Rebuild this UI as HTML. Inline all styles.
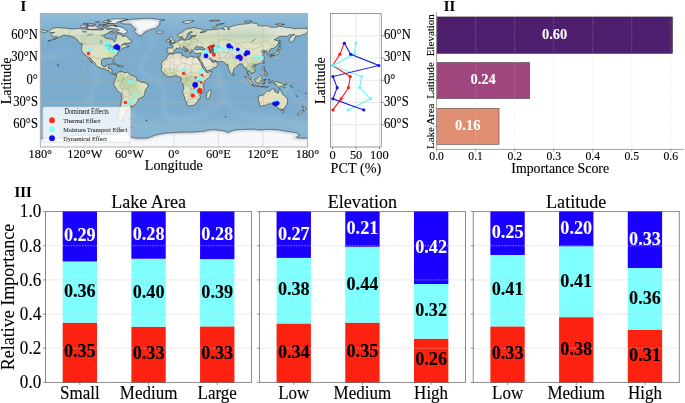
<!DOCTYPE html>
<html><head><meta charset="utf-8"><style>
html,body{margin:0;padding:0;background:#fff;overflow:hidden;}
svg{display:block;will-change:transform;}
</style></head><body>
<svg width="685" height="403" viewBox="0 0 685 403">
<rect width="685" height="403" fill="#fff"/>
<defs><clipPath id="mapclip"><rect x="40.3" y="13.6" width="267.20" height="133.40"/></clipPath><filter id="blur1" x="-20%" y="-20%" width="140%" height="140%"><feGaussianBlur stdDeviation="1.2"/></filter><filter id="blur2" x="-20%" y="-20%" width="140%" height="140%"><feGaussianBlur stdDeviation="2.5"/></filter></defs>
<g clip-path="url(#mapclip)">
<rect x="40.3" y="13.6" width="267.20" height="133.40" fill="#7bacce"/>
<linearGradient id="og" x1="0" y1="0" x2="0" y2="1"><stop offset="0" stop-color="#92bfdb" stop-opacity="0.9"/><stop offset="0.16" stop-color="#92bfdb" stop-opacity="0"/><stop offset="0.72" stop-color="#92bfdb" stop-opacity="0"/><stop offset="0.85" stop-color="#92bfdb" stop-opacity="0.5"/></linearGradient>
<rect x="40.3" y="13.6" width="267.20" height="133.40" fill="url(#og)"/>
<path d="M151.63,34.35 L153.12,41.76 L149.41,49.17 L144.21,56.58 L140.50,64.00 L140.50,71.41 L150.15,78.08 L159.06,81.78 L163.51,91.42 L164.25,102.53 L163.51,111.43 L170.19,118.84 L181.32,120.32 M93.74,64.00 L96.71,72.89 L96.71,80.30 L92.26,89.19 L90.77,98.83 L89.29,108.46 L86.32,117.36 L81.12,122.54 L62.57,126.25 L40.30,126.25 M225.86,101.05 L231.79,108.46 L240.70,113.65 L251.83,116.61 L262.97,117.36 L277.81,118.84 L288.94,122.54 L307.50,126.25 M225.86,101.05 L214.72,106.98 L203.59,112.91 L192.46,117.36 L181.32,120.32 M225.86,101.05 L223.63,89.19 L219.92,78.82 L216.95,71.41 M40.30,58.07 L55.14,54.36 L69.99,50.66 M292.66,95.12 L303.79,102.53 L307.50,108.46" fill="none" stroke="#9fc7df" stroke-width="5" stroke-linecap="round" stroke-linejoin="round" opacity="0.3" filter="url(#blur2)"/>
<g filter="url(#blur2)">
<ellipse cx="129.4" cy="115.1" rx="6.7" ry="4.5" fill="#94c2dc" opacity="0.7"/>
<ellipse cx="177.6" cy="38.8" rx="5.9" ry="3.0" fill="#94c2dc" opacity="0.7"/>
<ellipse cx="254.1" cy="80.3" rx="8.9" ry="5.2" fill="#94c2dc" opacity="0.7"/>
<ellipse cx="47.7" cy="35.8" rx="7.4" ry="3.0" fill="#94c2dc" opacity="0.7"/>
<ellipse cx="114.5" cy="61.8" rx="4.5" ry="3.0" fill="#94c2dc" opacity="0.7"/>
<ellipse cx="285.2" cy="89.2" rx="5.9" ry="3.7" fill="#94c2dc" opacity="0.7"/>
<ellipse cx="266.7" cy="91.4" rx="4.5" ry="3.0" fill="#94c2dc" opacity="0.7"/>
<ellipse cx="218.4" cy="84.0" rx="3.0" ry="2.2" fill="#94c2dc" opacity="0.7"/>
<ellipse cx="136.8" cy="44.7" rx="4.5" ry="2.2" fill="#94c2dc" opacity="0.7"/>
</g>
<path d="M49.21,31.76 L50.69,29.53 L52.92,28.27 L57.74,27.46 L61.08,27.83 L66.28,28.35 L69.25,28.64 L72.96,29.16 L77.41,28.42 L81.12,28.79 L86.32,29.39 L92.26,29.90 L96.71,29.90 L101.16,30.05 L103.39,29.53 L104.13,27.31 L105.62,28.79 L108.58,29.90 L110.81,28.79 L113.41,30.27 L112.30,31.39 L110.07,31.24 L109.33,32.50 L106.36,33.76 L104.13,35.09 L103.76,36.57 L105.24,38.06 L108.58,38.80 L112.67,39.54 L114.52,42.13 L115.41,39.54 L116.75,37.32 L116.01,35.46 L116.38,33.98 L119.72,34.35 L121.94,35.09 L122.32,36.57 L125.28,36.20 L126.03,35.61 L128.62,38.80 L130.85,40.28 L132.34,41.76 L129.37,43.10 L124.91,43.24 L122.69,44.36 L121.20,45.62 L123.43,44.13 L126.03,43.99 L125.66,45.10 L126.40,46.21 L128.62,46.51 L129.37,46.21 L126.77,47.32 L124.91,47.69 L121.94,48.06 L121.57,49.32 L120.46,49.91 L118.98,50.29 L118.98,51.40 L117.86,52.14 L117.49,52.88 L117.86,53.99 L116.75,54.73 L115.26,55.47 L113.78,56.96 L113.56,58.07 L114.37,60.29 L114.23,61.62 L113.41,61.40 L112.52,59.92 L112.30,58.81 L111.18,58.07 L110.07,57.77 L108.58,57.77 L107.47,58.07 L107.84,58.73 L106.36,58.59 L104.13,58.36 L103.39,58.81 L101.68,59.92 L101.53,61.40 L101.31,64.00 L101.90,65.48 L102.65,66.22 L103.76,66.81 L105.62,66.52 L106.36,66.22 L106.73,64.88 L107.10,64.59 L109.33,64.37 L108.96,65.48 L108.58,66.96 L108.21,68.44 L110.07,68.59 L111.92,69.18 L111.92,71.41 L111.78,72.15 L113.04,73.63 L114.52,73.41 L116.38,74.00 L116.08,74.89 L114.52,74.74 L113.04,74.22 L110.29,72.89 L110.22,71.78 L108.96,70.67 L105.99,69.92 L104.13,68.44 L102.28,68.66 L100.42,67.85 L98.19,66.96 L95.60,65.11 L95.82,64.22 L95.22,63.25 L93.37,61.40 L92.26,60.29 L90.40,58.44 L88.92,56.96 L90.03,58.81 L90.77,60.29 L91.88,62.51 L92.63,63.25 L91.88,62.88 L90.77,61.77 L89.29,59.92 L88.54,58.44 L87.43,56.73 L86.91,56.14 L85.95,55.10 L84.39,54.73 L83.35,53.03 L82.98,52.36 L81.86,50.66 L81.57,49.17 L81.86,46.21 L81.34,44.43 L82.61,44.58 L82.61,43.99 L81.12,43.24 L78.90,42.50 L77.41,39.91 L75.18,38.06 L72.96,36.95 L70.36,36.06 L67.76,35.83 L65.54,35.09 L64.05,35.46 L62.57,35.09 L61.45,36.35 L59.60,36.95 L57.37,38.06 L55.14,38.80 L52.92,39.69 L55.14,38.95 L56.63,37.69 L57.37,36.72 L53.66,36.80 L51.80,35.83 L51.06,34.72 L51.43,33.98 L52.18,33.46 L54.40,32.72 L54.40,32.35 L52.92,32.42 L50.32,32.50 Z M116.38,74.00 L117.49,73.26 L117.86,72.52 L118.98,72.00 L120.46,71.18 L120.83,72.15 L121.94,71.26 L123.43,72.52 L125.66,72.74 L127.51,72.37 L128.62,72.89 L129.37,74.00 L130.85,75.26 L133.08,75.93 L135.30,76.74 L136.05,77.34 L136.79,78.97 L136.79,80.30 L137.90,81.04 L139.02,80.82 L140.87,82.15 L142.73,82.38 L144.21,82.38 L145.70,83.12 L147.77,84.38 L147.92,85.86 L147.77,86.97 L146.44,88.45 L145.18,89.93 L144.80,93.27 L144.21,95.12 L143.47,96.60 L141.61,97.35 L140.50,97.86 L138.64,98.83 L137.83,99.94 L137.68,101.42 L136.57,102.90 L135.16,104.16 L134.19,105.50 L133.08,106.24 L131.96,106.09 L130.55,105.87 L131.44,106.98 L131.82,107.35 L131.15,108.61 L129.37,109.13 L127.73,109.06 L127.66,110.31 L126.03,110.54 L125.66,111.43 L126.40,111.80 L125.28,113.65 L123.80,114.76 L124.91,115.87 L123.21,117.43 L122.69,118.54 L123.13,119.13 L121.94,119.36 L123.06,119.80 L125.43,120.99 L123.43,121.43 L121.20,121.06 L118.98,119.21 L117.86,117.36 L118.60,115.13 L117.79,114.76 L118.98,112.91 L119.35,111.06 L119.20,108.46 L120.09,106.61 L120.68,104.76 L120.83,102.53 L121.42,100.68 L121.80,97.72 L121.72,93.86 L120.46,92.90 L118.08,91.64 L117.27,90.30 L116.60,89.19 L115.64,87.34 L114.52,85.49 L113.63,84.38 L114.30,82.89 L113.85,81.93 L114.52,81.04 L114.37,79.93 L115.26,79.26 L115.64,78.45 L116.53,77.34 L116.53,75.48 L116.08,74.89 Z M169.74,53.62 L169.22,53.03 L168.33,52.73 L167.22,52.88 L167.37,51.62 L166.85,51.03 L167.37,49.91 L167.00,48.43 L167.96,47.91 L170.19,48.06 L172.42,48.14 L172.79,47.69 L173.01,46.21 L172.27,45.32 L170.56,44.80 L170.41,44.28 L172.71,44.21 L172.94,43.54 L173.90,43.69 L175.01,43.10 L175.76,42.43 L176.57,42.13 L177.24,41.39 L177.61,40.87 L179.10,40.58 L180.21,40.50 L180.28,39.17 L179.99,38.20 L181.69,37.54 L181.69,38.58 L181.32,39.54 L181.92,40.06 L183.18,39.98 L184.51,40.35 L187.63,39.76 L189.49,39.54 L189.56,38.43 L191.64,38.06 L192.01,37.09 L191.34,36.43 L194.68,36.20 L196.17,35.83 L194.68,35.46 L190.90,35.83 L189.78,35.24 L189.86,33.61 L192.60,32.13 L190.23,31.53 L189.71,32.50 L188.00,33.24 L186.89,34.13 L186.81,35.31 L187.78,35.98 L186.52,36.95 L186.22,38.06 L185.78,38.65 L184.44,39.24 L183.40,39.09 L183.18,38.20 L182.66,37.17 L182.06,36.57 L181.69,36.20 L180.95,36.65 L179.84,37.24 L178.35,37.02 L177.98,36.20 L177.61,35.09 L177.83,34.35 L179.10,33.76 L180.58,33.24 L182.06,32.28 L183.18,31.39 L184.66,30.27 L185.78,29.31 L187.26,28.72 L188.74,28.42 L191.34,28.05 L192.98,27.61 L195.05,27.76 L196.91,28.20 L198.39,28.87 L200.62,29.09 L203.96,30.05 L204.33,31.16 L202.48,31.39 L199.88,32.50 L201.36,32.87 L203.59,32.50 L206.56,31.24 L206.56,29.68 L208.04,29.83 L210.27,30.05 L213.61,29.53 L216.95,29.39 L218.80,28.57 L222.14,28.94 L224.74,29.76 L223.26,27.83 L225.11,26.20 L226.60,26.35 L227.71,27.53 L227.93,29.53 L229.57,29.53 L228.82,26.94 L231.05,26.72 L233.28,25.83 L237.73,25.09 L238.47,24.57 L244.41,23.98 L248.12,23.61 L251.31,22.72 L252.58,22.94 L257.03,23.61 L258.14,25.75 L261.48,26.05 L265.94,25.75 L268.16,25.83 L269.65,26.94 L271.87,27.31 L276.33,27.24 L279.30,26.42 L282.26,26.72 L285.23,27.31 L287.46,27.76 L290.43,27.68 L292.66,28.42 L293.40,28.79 L296.37,28.64 L300.08,28.35 L304.53,28.57 L307.87,29.16 L307.87,32.13 L306.76,32.35 L305.27,33.98 L303.05,34.50 L300.08,35.83 L297.11,35.98 L295.62,35.91 L295.25,37.69 L294.14,38.65 L294.29,39.69 L292.66,41.02 L291.54,41.76 L290.21,42.50 L289.69,41.39 L289.32,39.54 L289.69,37.69 L291.17,37.32 L292.66,35.46 L294.88,34.35 L292.66,34.72 L289.69,34.72 L286.72,36.43 L284.12,36.35 L280.04,36.35 L278.18,37.17 L275.96,38.65 L274.10,39.76 L276.33,40.43 L278.18,40.87 L278.78,41.61 L278.18,44.36 L276.33,45.84 L274.47,47.84 L272.62,48.58 L271.13,48.73 L270.24,49.91 L268.90,50.66 L268.53,51.10 L269.94,52.88 L269.87,54.21 L268.16,54.66 L267.64,54.66 L267.79,53.47 L267.87,52.51 L266.68,52.29 L266.75,51.03 L266.16,50.73 L264.08,51.40 L264.30,50.06 L263.71,49.99 L262.22,51.17 L261.48,51.25 L261.19,51.69 L262.08,52.58 L263.71,52.29 L264.82,52.73 L263.34,53.62 L262.37,54.51 L263.56,56.14 L264.30,56.81 L264.08,57.47 L264.45,58.21 L263.86,59.55 L262.60,61.03 L261.48,62.14 L260.00,63.40 L258.51,63.77 L257.03,64.14 L255.92,64.59 L255.40,64.37 L254.43,64.29 L252.95,65.26 L252.35,66.22 L253.32,67.85 L253.69,68.22 L254.65,68.96 L255.02,70.67 L254.95,71.70 L254.06,72.37 L253.10,72.59 L251.68,73.93 L251.91,72.96 L251.46,72.52 L250.35,71.78 L249.83,71.26 L248.79,70.89 L248.27,70.30 L248.05,71.41 L247.53,72.74 L248.34,74.07 L248.57,75.11 L249.09,75.19 L249.83,75.85 L250.65,76.74 L250.65,78.22 L251.24,79.26 L250.72,79.34 L249.24,78.22 L248.42,76.89 L248.34,75.71 L247.97,75.26 L247.01,74.22 L246.86,73.04 L247.08,71.41 L246.79,70.30 L246.49,68.44 L246.12,67.85 L245.30,67.85 L244.41,68.59 L243.89,68.15 L244.11,66.59 L243.37,65.63 L242.41,64.88 L242.04,63.63 L241.07,63.85 L239.96,64.14 L239.22,64.29 L238.40,64.74 L238.10,65.33 L236.99,66.00 L235.88,66.96 L234.98,68.00 L234.17,68.59 L233.43,69.04 L233.43,70.67 L233.13,71.78 L233.13,72.67 L232.46,73.56 L231.42,74.30 L230.68,73.41 L230.16,71.78 L229.42,70.67 L228.90,69.18 L228.38,68.07 L228.01,66.22 L227.86,64.74 L227.79,63.85 L226.23,64.88 L225.11,63.77 L224.74,62.88 L223.85,62.14 L223.26,61.48 L221.77,61.62 L219.62,61.62 L217.62,61.40 L216.43,61.18 L215.76,60.22 L214.57,60.59 L213.61,60.36 L212.12,59.62 L211.23,58.66 L210.19,57.92 L209.45,58.14 L209.90,59.33 L210.79,60.51 L211.60,61.48 L211.98,60.96 L212.20,62.29 L213.83,62.44 L215.09,61.48 L215.69,60.81 L215.69,61.92 L216.65,62.66 L218.06,63.63 L217.47,65.03 L216.80,66.22 L215.84,67.03 L214.87,67.33 L213.39,68.00 L212.64,68.74 L210.27,69.85 L207.67,70.59 L206.19,70.96 L205.67,68.81 L205.44,68.07 L204.48,66.59 L203.59,65.48 L202.92,64.37 L202.48,62.88 L201.51,61.62 L200.99,60.66 L200.03,59.55 L199.80,58.44 L199.36,59.70 L198.76,59.18 L198.10,58.14 L197.87,57.18 L199.28,57.10 L199.88,55.99 L200.25,55.18 L200.55,53.99 L200.77,53.18 L199.66,53.03 L198.24,53.55 L196.54,53.40 L195.42,53.18 L194.16,52.51 L193.49,51.69 L193.35,50.66 L191.71,50.06 L190.90,50.29 L191.34,51.03 L190.75,52.14 L191.12,53.25 L190.60,53.32 L190.01,53.03 L189.56,51.92 L188.74,51.03 L188.30,50.29 L188.37,49.32 L187.63,48.80 L185.78,48.06 L185.03,47.32 L184.07,46.73 L183.03,46.73 L183.10,47.54 L183.99,48.06 L184.66,49.03 L185.92,49.69 L187.63,50.58 L186.52,50.36 L186.15,51.40 L185.55,52.14 L185.48,51.47 L185.78,50.80 L184.88,50.36 L184.07,49.77 L182.96,49.32 L182.06,48.73 L181.62,48.06 L180.51,47.39 L179.47,47.84 L178.72,48.36 L177.39,48.14 L176.28,48.36 L176.28,49.25 L175.46,49.69 L174.49,50.06 L173.68,51.03 L174.05,51.54 L173.38,52.43 L172.34,53.10 L170.63,53.10 Z M197.87,57.10 L196.17,57.10 L195.42,57.40 L192.46,56.88 L190.97,56.14 L188.74,56.58 L188.00,57.84 L185.78,57.18 L185.18,56.36 L183.55,55.92 L182.06,55.70 L181.47,54.88 L182.06,54.21 L181.54,53.18 L182.06,52.80 L181.17,52.66 L179.84,52.95 L177.61,53.03 L176.13,53.03 L173.90,53.69 L172.42,54.29 L169.97,53.69 L169.45,53.77 L168.85,55.10 L167.59,55.62 L166.70,57.70 L166.33,58.59 L164.33,59.62 L163.14,60.96 L162.02,62.51 L161.28,64.37 L161.65,65.85 L161.80,67.70 L160.91,69.41 L161.50,70.37 L161.43,71.41 L162.77,72.15 L163.88,73.19 L164.62,74.74 L165.74,75.26 L167.22,76.59 L168.33,77.04 L170.19,76.52 L172.42,76.74 L173.90,76.15 L175.38,75.63 L177.24,75.63 L177.98,76.74 L178.72,77.11 L180.21,76.89 L180.95,77.48 L181.17,78.22 L180.95,79.56 L180.80,80.67 L180.43,81.19 L182.44,83.26 L182.96,84.67 L183.62,86.60 L183.92,88.45 L182.73,91.79 L182.66,93.27 L183.70,95.12 L184.66,96.97 L185.03,99.94 L186.15,101.50 L186.89,103.27 L187.56,105.50 L188.74,106.09 L190.60,105.50 L192.98,105.50 L194.31,104.76 L195.80,103.42 L196.91,102.16 L198.02,101.27 L198.10,99.57 L198.39,99.20 L200.25,98.09 L200.10,96.60 L199.66,94.97 L201.21,93.64 L203.22,92.53 L204.03,91.42 L203.96,88.82 L203.07,86.23 L203.07,85.12 L203.37,83.64 L204.33,81.78 L205.07,80.89 L206.19,79.56 L208.04,78.45 L209.53,76.59 L210.64,74.37 L211.75,72.52 L211.98,71.55 L210.27,71.93 L208.04,72.37 L206.56,72.52 L206.04,71.78 L205.59,71.04 L204.70,70.07 L203.44,68.96 L202.48,66.96 L201.58,66.22 L201.51,64.74 L201.14,63.63 L200.32,62.51 L199.51,61.18 L198.84,60.07 L198.10,58.14 Z M210.49,89.19 L211.38,91.79 L210.86,92.97 L210.12,95.49 L208.93,98.68 L207.45,99.20 L206.34,96.97 L206.85,94.97 L206.56,92.90 L208.19,92.01 L209.45,90.30 Z M258.14,96.60 L258.51,99.94 L259.26,102.90 L259.78,105.13 L259.26,105.72 L261.41,106.31 L262.97,105.42 L265.56,105.42 L267.42,104.24 L269.65,103.72 L271.28,103.65 L273.51,104.53 L274.62,106.09 L276.18,104.61 L275.96,106.61 L277.44,106.83 L278.18,108.46 L280.41,109.06 L282.49,109.28 L283.75,108.31 L285.23,107.94 L285.38,106.76 L286.20,105.35 L287.09,104.16 L287.68,101.79 L287.53,99.42 L285.83,97.05 L284.64,96.01 L282.49,94.38 L281.82,92.16 L281.74,91.27 L280.41,90.68 L279.67,88.23 L279.00,89.71 L278.92,91.79 L278.18,93.27 L277.07,92.90 L275.58,91.94 L274.47,91.27 L275.36,89.34 L274.10,89.34 L272.24,88.82 L271.13,89.34 L270.02,91.27 L268.90,91.27 L267.42,90.68 L266.68,91.42 L265.56,92.53 L264.60,93.64 L263.71,94.75 L261.85,95.34 L260.37,95.64 L258.66,96.46 Z M281.23,110.46 L283.97,110.61 L283.75,112.32 L282.86,112.61 L281.67,111.57 Z M302.08,105.79 L303.42,106.98 L304.46,108.02 L306.39,108.24 L305.27,109.57 L304.53,110.98 L303.79,111.06 L303.49,109.80 L302.90,109.35 L303.49,108.09 Z M302.08,110.31 L303.27,111.20 L302.30,112.54 L300.97,113.28 L299.71,114.84 L297.48,114.39 L298.59,112.91 L300.82,111.80 Z M244.56,76.15 L246.64,77.19 L248.49,78.82 L250.72,80.89 L252.58,82.52 L252.43,84.60 L251.46,84.67 L249.83,83.26 L248.49,81.41 L247.38,79.93 L246.27,78.45 Z M251.98,85.34 L254.06,84.89 L256.29,85.12 L258.88,86.08 L258.81,86.75 L256.29,86.38 L254.06,86.08 Z M254.80,79.19 L255.25,78.82 L256.29,79.04 L257.77,77.93 L259.63,76.37 L260.74,75.11 L262.37,76.30 L261.48,77.11 L261.85,79.56 L261.11,80.30 L260.37,82.15 L260.00,83.19 L258.88,83.26 L256.66,82.52 L255.54,81.78 L254.80,80.30 Z M262.60,84.38 L263.34,82.52 L262.60,80.67 L263.56,79.56 L266.53,79.19 L265.56,79.93 L263.71,79.93 L264.08,81.04 L265.19,81.04 L264.45,82.15 L264.82,83.86 L263.71,83.26 L263.34,84.45 Z M271.13,81.19 L273.36,80.89 L274.10,82.75 L275.96,81.41 L278.55,82.23 L281.15,83.12 L282.26,84.01 L283.38,84.75 L283.60,86.23 L285.23,87.93 L283.75,87.71 L282.26,86.60 L280.78,86.01 L280.04,86.97 L278.55,87.04 L277.07,86.30 L276.33,84.75 L275.96,84.01 L273.36,83.26 L271.87,82.15 Z M263.41,66.59 L264.60,66.59 L264.45,68.07 L264.15,69.18 L265.94,70.67 L265.19,70.67 L263.71,70.07 L263.41,69.18 L262.82,68.29 Z M264.45,75.11 L265.56,74.00 L267.05,73.04 L267.87,74.96 L267.05,76.00 L265.94,75.48 Z M264.45,71.78 L265.94,71.04 L267.05,72.15 L266.68,72.89 L265.19,73.41 L264.45,72.52 Z M263.71,61.55 L264.45,61.77 L263.71,64.00 L263.04,63.25 Z M254.51,66.07 L255.92,65.40 L256.29,65.77 L255.17,66.81 Z M233.13,73.11 L234.61,74.74 L234.17,75.71 L233.35,75.85 L233.06,74.37 Z M271.06,55.10 L272.24,54.06 L274.47,53.92 L275.44,52.73 L276.77,52.14 L277.81,51.03 L277.81,49.69 L278.92,49.77 L279.30,51.03 L278.55,52.14 L278.40,53.62 L277.66,54.36 L276.92,54.58 L275.58,54.73 L274.10,55.47 L272.24,54.95 Z M277.81,49.54 L278.55,48.28 L279.15,46.65 L280.26,47.54 L281.89,48.21 L280.41,49.17 L278.55,49.32 Z M270.17,55.40 L271.80,55.18 L271.50,57.10 L270.54,57.18 Z M272.24,55.84 L273.88,54.95 L273.51,55.70 L272.62,56.07 Z M279.30,46.21 L280.41,45.84 L280.04,43.62 L280.78,42.50 L280.04,40.28 L279.44,40.06 L279.30,42.50 L279.15,44.73 Z M169.67,43.24 L171.67,42.80 L174.94,42.36 L175.16,41.24 L174.12,40.80 L173.75,40.21 L172.79,39.39 L172.34,38.80 L172.42,37.54 L171.52,36.87 L170.19,36.87 L169.30,37.69 L169.74,38.58 L169.45,39.32 L170.26,39.84 L171.67,40.28 L171.52,40.80 L170.49,40.80 L170.78,41.61 L169.97,41.91 L171.52,42.21 Z M169.45,41.76 L169.45,40.28 L168.48,39.24 L167.59,39.91 L166.48,40.13 L166.48,41.76 L166.63,42.13 L167.96,42.06 Z M110.81,64.07 L113.04,63.11 L114.52,63.18 L116.38,64.14 L117.86,64.74 L118.83,65.33 L116.38,65.55 L115.64,64.37 L113.78,64.00 L111.55,64.14 Z M118.60,66.59 L119.87,65.55 L121.94,65.70 L123.13,66.52 L121.94,66.81 L120.46,66.96 Z M40.30,29.16 L43.27,30.27 L46.61,30.72 L47.94,31.39 L46.98,31.76 L45.50,32.50 L43.27,32.13 L41.41,31.76 L40.30,32.13 Z M306.39,27.53 L307.50,27.31 L307.50,27.76 Z M58.19,65.33 L58.86,65.70 L58.71,66.22 L58.19,66.14 Z M57.15,64.59 L58.11,64.74 L57.82,65.03 L57.15,64.81 Z M50.69,40.35 L51.80,39.91 L50.32,40.28 L48.84,40.80 L47.72,41.17 L49.21,40.95 Z M128.40,118.32 L131.00,118.32 L130.48,119.06 L128.62,118.84 Z M145.70,120.32 L147.18,120.47 L146.81,120.76 Z M225.11,116.47 L226.23,116.61 L225.86,117.13 L225.11,116.98 Z M295.62,95.27 L296.37,95.49 L297.85,96.83 L297.48,96.90 L295.85,95.64 Z M305.50,93.20 L306.46,93.27 L306.39,93.79 L305.50,93.64 Z M290.06,85.27 L291.91,86.23 L293.03,87.41 L292.43,87.56 L290.43,86.23 Z M283.97,84.38 L285.23,84.23 L286.35,83.49 L286.94,83.49 L286.57,84.38 L285.23,84.89 L284.12,84.75 Z M265.56,87.93 L266.68,86.97 L268.38,86.53 L266.68,87.49 Z M259.85,86.45 L262.22,86.45 L265.19,86.45 L265.04,86.82 L261.48,86.90 L260.00,86.90 Z M268.53,78.97 L269.35,79.41 L268.90,80.30 L269.42,80.89 L268.61,80.67 Z M268.90,82.52 L270.98,82.75 L270.61,83.19 L269.13,82.97 Z" fill="#dce3c4"/>
<clipPath id="landclip"><path d="M49.21,31.76 L50.69,29.53 L52.92,28.27 L57.74,27.46 L61.08,27.83 L66.28,28.35 L69.25,28.64 L72.96,29.16 L77.41,28.42 L81.12,28.79 L86.32,29.39 L92.26,29.90 L96.71,29.90 L101.16,30.05 L103.39,29.53 L104.13,27.31 L105.62,28.79 L108.58,29.90 L110.81,28.79 L113.41,30.27 L112.30,31.39 L110.07,31.24 L109.33,32.50 L106.36,33.76 L104.13,35.09 L103.76,36.57 L105.24,38.06 L108.58,38.80 L112.67,39.54 L114.52,42.13 L115.41,39.54 L116.75,37.32 L116.01,35.46 L116.38,33.98 L119.72,34.35 L121.94,35.09 L122.32,36.57 L125.28,36.20 L126.03,35.61 L128.62,38.80 L130.85,40.28 L132.34,41.76 L129.37,43.10 L124.91,43.24 L122.69,44.36 L121.20,45.62 L123.43,44.13 L126.03,43.99 L125.66,45.10 L126.40,46.21 L128.62,46.51 L129.37,46.21 L126.77,47.32 L124.91,47.69 L121.94,48.06 L121.57,49.32 L120.46,49.91 L118.98,50.29 L118.98,51.40 L117.86,52.14 L117.49,52.88 L117.86,53.99 L116.75,54.73 L115.26,55.47 L113.78,56.96 L113.56,58.07 L114.37,60.29 L114.23,61.62 L113.41,61.40 L112.52,59.92 L112.30,58.81 L111.18,58.07 L110.07,57.77 L108.58,57.77 L107.47,58.07 L107.84,58.73 L106.36,58.59 L104.13,58.36 L103.39,58.81 L101.68,59.92 L101.53,61.40 L101.31,64.00 L101.90,65.48 L102.65,66.22 L103.76,66.81 L105.62,66.52 L106.36,66.22 L106.73,64.88 L107.10,64.59 L109.33,64.37 L108.96,65.48 L108.58,66.96 L108.21,68.44 L110.07,68.59 L111.92,69.18 L111.92,71.41 L111.78,72.15 L113.04,73.63 L114.52,73.41 L116.38,74.00 L116.08,74.89 L114.52,74.74 L113.04,74.22 L110.29,72.89 L110.22,71.78 L108.96,70.67 L105.99,69.92 L104.13,68.44 L102.28,68.66 L100.42,67.85 L98.19,66.96 L95.60,65.11 L95.82,64.22 L95.22,63.25 L93.37,61.40 L92.26,60.29 L90.40,58.44 L88.92,56.96 L90.03,58.81 L90.77,60.29 L91.88,62.51 L92.63,63.25 L91.88,62.88 L90.77,61.77 L89.29,59.92 L88.54,58.44 L87.43,56.73 L86.91,56.14 L85.95,55.10 L84.39,54.73 L83.35,53.03 L82.98,52.36 L81.86,50.66 L81.57,49.17 L81.86,46.21 L81.34,44.43 L82.61,44.58 L82.61,43.99 L81.12,43.24 L78.90,42.50 L77.41,39.91 L75.18,38.06 L72.96,36.95 L70.36,36.06 L67.76,35.83 L65.54,35.09 L64.05,35.46 L62.57,35.09 L61.45,36.35 L59.60,36.95 L57.37,38.06 L55.14,38.80 L52.92,39.69 L55.14,38.95 L56.63,37.69 L57.37,36.72 L53.66,36.80 L51.80,35.83 L51.06,34.72 L51.43,33.98 L52.18,33.46 L54.40,32.72 L54.40,32.35 L52.92,32.42 L50.32,32.50 Z M116.38,74.00 L117.49,73.26 L117.86,72.52 L118.98,72.00 L120.46,71.18 L120.83,72.15 L121.94,71.26 L123.43,72.52 L125.66,72.74 L127.51,72.37 L128.62,72.89 L129.37,74.00 L130.85,75.26 L133.08,75.93 L135.30,76.74 L136.05,77.34 L136.79,78.97 L136.79,80.30 L137.90,81.04 L139.02,80.82 L140.87,82.15 L142.73,82.38 L144.21,82.38 L145.70,83.12 L147.77,84.38 L147.92,85.86 L147.77,86.97 L146.44,88.45 L145.18,89.93 L144.80,93.27 L144.21,95.12 L143.47,96.60 L141.61,97.35 L140.50,97.86 L138.64,98.83 L137.83,99.94 L137.68,101.42 L136.57,102.90 L135.16,104.16 L134.19,105.50 L133.08,106.24 L131.96,106.09 L130.55,105.87 L131.44,106.98 L131.82,107.35 L131.15,108.61 L129.37,109.13 L127.73,109.06 L127.66,110.31 L126.03,110.54 L125.66,111.43 L126.40,111.80 L125.28,113.65 L123.80,114.76 L124.91,115.87 L123.21,117.43 L122.69,118.54 L123.13,119.13 L121.94,119.36 L123.06,119.80 L125.43,120.99 L123.43,121.43 L121.20,121.06 L118.98,119.21 L117.86,117.36 L118.60,115.13 L117.79,114.76 L118.98,112.91 L119.35,111.06 L119.20,108.46 L120.09,106.61 L120.68,104.76 L120.83,102.53 L121.42,100.68 L121.80,97.72 L121.72,93.86 L120.46,92.90 L118.08,91.64 L117.27,90.30 L116.60,89.19 L115.64,87.34 L114.52,85.49 L113.63,84.38 L114.30,82.89 L113.85,81.93 L114.52,81.04 L114.37,79.93 L115.26,79.26 L115.64,78.45 L116.53,77.34 L116.53,75.48 L116.08,74.89 Z M169.74,53.62 L169.22,53.03 L168.33,52.73 L167.22,52.88 L167.37,51.62 L166.85,51.03 L167.37,49.91 L167.00,48.43 L167.96,47.91 L170.19,48.06 L172.42,48.14 L172.79,47.69 L173.01,46.21 L172.27,45.32 L170.56,44.80 L170.41,44.28 L172.71,44.21 L172.94,43.54 L173.90,43.69 L175.01,43.10 L175.76,42.43 L176.57,42.13 L177.24,41.39 L177.61,40.87 L179.10,40.58 L180.21,40.50 L180.28,39.17 L179.99,38.20 L181.69,37.54 L181.69,38.58 L181.32,39.54 L181.92,40.06 L183.18,39.98 L184.51,40.35 L187.63,39.76 L189.49,39.54 L189.56,38.43 L191.64,38.06 L192.01,37.09 L191.34,36.43 L194.68,36.20 L196.17,35.83 L194.68,35.46 L190.90,35.83 L189.78,35.24 L189.86,33.61 L192.60,32.13 L190.23,31.53 L189.71,32.50 L188.00,33.24 L186.89,34.13 L186.81,35.31 L187.78,35.98 L186.52,36.95 L186.22,38.06 L185.78,38.65 L184.44,39.24 L183.40,39.09 L183.18,38.20 L182.66,37.17 L182.06,36.57 L181.69,36.20 L180.95,36.65 L179.84,37.24 L178.35,37.02 L177.98,36.20 L177.61,35.09 L177.83,34.35 L179.10,33.76 L180.58,33.24 L182.06,32.28 L183.18,31.39 L184.66,30.27 L185.78,29.31 L187.26,28.72 L188.74,28.42 L191.34,28.05 L192.98,27.61 L195.05,27.76 L196.91,28.20 L198.39,28.87 L200.62,29.09 L203.96,30.05 L204.33,31.16 L202.48,31.39 L199.88,32.50 L201.36,32.87 L203.59,32.50 L206.56,31.24 L206.56,29.68 L208.04,29.83 L210.27,30.05 L213.61,29.53 L216.95,29.39 L218.80,28.57 L222.14,28.94 L224.74,29.76 L223.26,27.83 L225.11,26.20 L226.60,26.35 L227.71,27.53 L227.93,29.53 L229.57,29.53 L228.82,26.94 L231.05,26.72 L233.28,25.83 L237.73,25.09 L238.47,24.57 L244.41,23.98 L248.12,23.61 L251.31,22.72 L252.58,22.94 L257.03,23.61 L258.14,25.75 L261.48,26.05 L265.94,25.75 L268.16,25.83 L269.65,26.94 L271.87,27.31 L276.33,27.24 L279.30,26.42 L282.26,26.72 L285.23,27.31 L287.46,27.76 L290.43,27.68 L292.66,28.42 L293.40,28.79 L296.37,28.64 L300.08,28.35 L304.53,28.57 L307.87,29.16 L307.87,32.13 L306.76,32.35 L305.27,33.98 L303.05,34.50 L300.08,35.83 L297.11,35.98 L295.62,35.91 L295.25,37.69 L294.14,38.65 L294.29,39.69 L292.66,41.02 L291.54,41.76 L290.21,42.50 L289.69,41.39 L289.32,39.54 L289.69,37.69 L291.17,37.32 L292.66,35.46 L294.88,34.35 L292.66,34.72 L289.69,34.72 L286.72,36.43 L284.12,36.35 L280.04,36.35 L278.18,37.17 L275.96,38.65 L274.10,39.76 L276.33,40.43 L278.18,40.87 L278.78,41.61 L278.18,44.36 L276.33,45.84 L274.47,47.84 L272.62,48.58 L271.13,48.73 L270.24,49.91 L268.90,50.66 L268.53,51.10 L269.94,52.88 L269.87,54.21 L268.16,54.66 L267.64,54.66 L267.79,53.47 L267.87,52.51 L266.68,52.29 L266.75,51.03 L266.16,50.73 L264.08,51.40 L264.30,50.06 L263.71,49.99 L262.22,51.17 L261.48,51.25 L261.19,51.69 L262.08,52.58 L263.71,52.29 L264.82,52.73 L263.34,53.62 L262.37,54.51 L263.56,56.14 L264.30,56.81 L264.08,57.47 L264.45,58.21 L263.86,59.55 L262.60,61.03 L261.48,62.14 L260.00,63.40 L258.51,63.77 L257.03,64.14 L255.92,64.59 L255.40,64.37 L254.43,64.29 L252.95,65.26 L252.35,66.22 L253.32,67.85 L253.69,68.22 L254.65,68.96 L255.02,70.67 L254.95,71.70 L254.06,72.37 L253.10,72.59 L251.68,73.93 L251.91,72.96 L251.46,72.52 L250.35,71.78 L249.83,71.26 L248.79,70.89 L248.27,70.30 L248.05,71.41 L247.53,72.74 L248.34,74.07 L248.57,75.11 L249.09,75.19 L249.83,75.85 L250.65,76.74 L250.65,78.22 L251.24,79.26 L250.72,79.34 L249.24,78.22 L248.42,76.89 L248.34,75.71 L247.97,75.26 L247.01,74.22 L246.86,73.04 L247.08,71.41 L246.79,70.30 L246.49,68.44 L246.12,67.85 L245.30,67.85 L244.41,68.59 L243.89,68.15 L244.11,66.59 L243.37,65.63 L242.41,64.88 L242.04,63.63 L241.07,63.85 L239.96,64.14 L239.22,64.29 L238.40,64.74 L238.10,65.33 L236.99,66.00 L235.88,66.96 L234.98,68.00 L234.17,68.59 L233.43,69.04 L233.43,70.67 L233.13,71.78 L233.13,72.67 L232.46,73.56 L231.42,74.30 L230.68,73.41 L230.16,71.78 L229.42,70.67 L228.90,69.18 L228.38,68.07 L228.01,66.22 L227.86,64.74 L227.79,63.85 L226.23,64.88 L225.11,63.77 L224.74,62.88 L223.85,62.14 L223.26,61.48 L221.77,61.62 L219.62,61.62 L217.62,61.40 L216.43,61.18 L215.76,60.22 L214.57,60.59 L213.61,60.36 L212.12,59.62 L211.23,58.66 L210.19,57.92 L209.45,58.14 L209.90,59.33 L210.79,60.51 L211.60,61.48 L211.98,60.96 L212.20,62.29 L213.83,62.44 L215.09,61.48 L215.69,60.81 L215.69,61.92 L216.65,62.66 L218.06,63.63 L217.47,65.03 L216.80,66.22 L215.84,67.03 L214.87,67.33 L213.39,68.00 L212.64,68.74 L210.27,69.85 L207.67,70.59 L206.19,70.96 L205.67,68.81 L205.44,68.07 L204.48,66.59 L203.59,65.48 L202.92,64.37 L202.48,62.88 L201.51,61.62 L200.99,60.66 L200.03,59.55 L199.80,58.44 L199.36,59.70 L198.76,59.18 L198.10,58.14 L197.87,57.18 L199.28,57.10 L199.88,55.99 L200.25,55.18 L200.55,53.99 L200.77,53.18 L199.66,53.03 L198.24,53.55 L196.54,53.40 L195.42,53.18 L194.16,52.51 L193.49,51.69 L193.35,50.66 L191.71,50.06 L190.90,50.29 L191.34,51.03 L190.75,52.14 L191.12,53.25 L190.60,53.32 L190.01,53.03 L189.56,51.92 L188.74,51.03 L188.30,50.29 L188.37,49.32 L187.63,48.80 L185.78,48.06 L185.03,47.32 L184.07,46.73 L183.03,46.73 L183.10,47.54 L183.99,48.06 L184.66,49.03 L185.92,49.69 L187.63,50.58 L186.52,50.36 L186.15,51.40 L185.55,52.14 L185.48,51.47 L185.78,50.80 L184.88,50.36 L184.07,49.77 L182.96,49.32 L182.06,48.73 L181.62,48.06 L180.51,47.39 L179.47,47.84 L178.72,48.36 L177.39,48.14 L176.28,48.36 L176.28,49.25 L175.46,49.69 L174.49,50.06 L173.68,51.03 L174.05,51.54 L173.38,52.43 L172.34,53.10 L170.63,53.10 Z M197.87,57.10 L196.17,57.10 L195.42,57.40 L192.46,56.88 L190.97,56.14 L188.74,56.58 L188.00,57.84 L185.78,57.18 L185.18,56.36 L183.55,55.92 L182.06,55.70 L181.47,54.88 L182.06,54.21 L181.54,53.18 L182.06,52.80 L181.17,52.66 L179.84,52.95 L177.61,53.03 L176.13,53.03 L173.90,53.69 L172.42,54.29 L169.97,53.69 L169.45,53.77 L168.85,55.10 L167.59,55.62 L166.70,57.70 L166.33,58.59 L164.33,59.62 L163.14,60.96 L162.02,62.51 L161.28,64.37 L161.65,65.85 L161.80,67.70 L160.91,69.41 L161.50,70.37 L161.43,71.41 L162.77,72.15 L163.88,73.19 L164.62,74.74 L165.74,75.26 L167.22,76.59 L168.33,77.04 L170.19,76.52 L172.42,76.74 L173.90,76.15 L175.38,75.63 L177.24,75.63 L177.98,76.74 L178.72,77.11 L180.21,76.89 L180.95,77.48 L181.17,78.22 L180.95,79.56 L180.80,80.67 L180.43,81.19 L182.44,83.26 L182.96,84.67 L183.62,86.60 L183.92,88.45 L182.73,91.79 L182.66,93.27 L183.70,95.12 L184.66,96.97 L185.03,99.94 L186.15,101.50 L186.89,103.27 L187.56,105.50 L188.74,106.09 L190.60,105.50 L192.98,105.50 L194.31,104.76 L195.80,103.42 L196.91,102.16 L198.02,101.27 L198.10,99.57 L198.39,99.20 L200.25,98.09 L200.10,96.60 L199.66,94.97 L201.21,93.64 L203.22,92.53 L204.03,91.42 L203.96,88.82 L203.07,86.23 L203.07,85.12 L203.37,83.64 L204.33,81.78 L205.07,80.89 L206.19,79.56 L208.04,78.45 L209.53,76.59 L210.64,74.37 L211.75,72.52 L211.98,71.55 L210.27,71.93 L208.04,72.37 L206.56,72.52 L206.04,71.78 L205.59,71.04 L204.70,70.07 L203.44,68.96 L202.48,66.96 L201.58,66.22 L201.51,64.74 L201.14,63.63 L200.32,62.51 L199.51,61.18 L198.84,60.07 L198.10,58.14 Z M210.49,89.19 L211.38,91.79 L210.86,92.97 L210.12,95.49 L208.93,98.68 L207.45,99.20 L206.34,96.97 L206.85,94.97 L206.56,92.90 L208.19,92.01 L209.45,90.30 Z M258.14,96.60 L258.51,99.94 L259.26,102.90 L259.78,105.13 L259.26,105.72 L261.41,106.31 L262.97,105.42 L265.56,105.42 L267.42,104.24 L269.65,103.72 L271.28,103.65 L273.51,104.53 L274.62,106.09 L276.18,104.61 L275.96,106.61 L277.44,106.83 L278.18,108.46 L280.41,109.06 L282.49,109.28 L283.75,108.31 L285.23,107.94 L285.38,106.76 L286.20,105.35 L287.09,104.16 L287.68,101.79 L287.53,99.42 L285.83,97.05 L284.64,96.01 L282.49,94.38 L281.82,92.16 L281.74,91.27 L280.41,90.68 L279.67,88.23 L279.00,89.71 L278.92,91.79 L278.18,93.27 L277.07,92.90 L275.58,91.94 L274.47,91.27 L275.36,89.34 L274.10,89.34 L272.24,88.82 L271.13,89.34 L270.02,91.27 L268.90,91.27 L267.42,90.68 L266.68,91.42 L265.56,92.53 L264.60,93.64 L263.71,94.75 L261.85,95.34 L260.37,95.64 L258.66,96.46 Z M281.23,110.46 L283.97,110.61 L283.75,112.32 L282.86,112.61 L281.67,111.57 Z M302.08,105.79 L303.42,106.98 L304.46,108.02 L306.39,108.24 L305.27,109.57 L304.53,110.98 L303.79,111.06 L303.49,109.80 L302.90,109.35 L303.49,108.09 Z M302.08,110.31 L303.27,111.20 L302.30,112.54 L300.97,113.28 L299.71,114.84 L297.48,114.39 L298.59,112.91 L300.82,111.80 Z M244.56,76.15 L246.64,77.19 L248.49,78.82 L250.72,80.89 L252.58,82.52 L252.43,84.60 L251.46,84.67 L249.83,83.26 L248.49,81.41 L247.38,79.93 L246.27,78.45 Z M251.98,85.34 L254.06,84.89 L256.29,85.12 L258.88,86.08 L258.81,86.75 L256.29,86.38 L254.06,86.08 Z M254.80,79.19 L255.25,78.82 L256.29,79.04 L257.77,77.93 L259.63,76.37 L260.74,75.11 L262.37,76.30 L261.48,77.11 L261.85,79.56 L261.11,80.30 L260.37,82.15 L260.00,83.19 L258.88,83.26 L256.66,82.52 L255.54,81.78 L254.80,80.30 Z M262.60,84.38 L263.34,82.52 L262.60,80.67 L263.56,79.56 L266.53,79.19 L265.56,79.93 L263.71,79.93 L264.08,81.04 L265.19,81.04 L264.45,82.15 L264.82,83.86 L263.71,83.26 L263.34,84.45 Z M271.13,81.19 L273.36,80.89 L274.10,82.75 L275.96,81.41 L278.55,82.23 L281.15,83.12 L282.26,84.01 L283.38,84.75 L283.60,86.23 L285.23,87.93 L283.75,87.71 L282.26,86.60 L280.78,86.01 L280.04,86.97 L278.55,87.04 L277.07,86.30 L276.33,84.75 L275.96,84.01 L273.36,83.26 L271.87,82.15 Z M263.41,66.59 L264.60,66.59 L264.45,68.07 L264.15,69.18 L265.94,70.67 L265.19,70.67 L263.71,70.07 L263.41,69.18 L262.82,68.29 Z M264.45,75.11 L265.56,74.00 L267.05,73.04 L267.87,74.96 L267.05,76.00 L265.94,75.48 Z M264.45,71.78 L265.94,71.04 L267.05,72.15 L266.68,72.89 L265.19,73.41 L264.45,72.52 Z M263.71,61.55 L264.45,61.77 L263.71,64.00 L263.04,63.25 Z M254.51,66.07 L255.92,65.40 L256.29,65.77 L255.17,66.81 Z M233.13,73.11 L234.61,74.74 L234.17,75.71 L233.35,75.85 L233.06,74.37 Z M271.06,55.10 L272.24,54.06 L274.47,53.92 L275.44,52.73 L276.77,52.14 L277.81,51.03 L277.81,49.69 L278.92,49.77 L279.30,51.03 L278.55,52.14 L278.40,53.62 L277.66,54.36 L276.92,54.58 L275.58,54.73 L274.10,55.47 L272.24,54.95 Z M277.81,49.54 L278.55,48.28 L279.15,46.65 L280.26,47.54 L281.89,48.21 L280.41,49.17 L278.55,49.32 Z M270.17,55.40 L271.80,55.18 L271.50,57.10 L270.54,57.18 Z M272.24,55.84 L273.88,54.95 L273.51,55.70 L272.62,56.07 Z M279.30,46.21 L280.41,45.84 L280.04,43.62 L280.78,42.50 L280.04,40.28 L279.44,40.06 L279.30,42.50 L279.15,44.73 Z M169.67,43.24 L171.67,42.80 L174.94,42.36 L175.16,41.24 L174.12,40.80 L173.75,40.21 L172.79,39.39 L172.34,38.80 L172.42,37.54 L171.52,36.87 L170.19,36.87 L169.30,37.69 L169.74,38.58 L169.45,39.32 L170.26,39.84 L171.67,40.28 L171.52,40.80 L170.49,40.80 L170.78,41.61 L169.97,41.91 L171.52,42.21 Z M169.45,41.76 L169.45,40.28 L168.48,39.24 L167.59,39.91 L166.48,40.13 L166.48,41.76 L166.63,42.13 L167.96,42.06 Z M110.81,64.07 L113.04,63.11 L114.52,63.18 L116.38,64.14 L117.86,64.74 L118.83,65.33 L116.38,65.55 L115.64,64.37 L113.78,64.00 L111.55,64.14 Z M118.60,66.59 L119.87,65.55 L121.94,65.70 L123.13,66.52 L121.94,66.81 L120.46,66.96 Z M40.30,29.16 L43.27,30.27 L46.61,30.72 L47.94,31.39 L46.98,31.76 L45.50,32.50 L43.27,32.13 L41.41,31.76 L40.30,32.13 Z M306.39,27.53 L307.50,27.31 L307.50,27.76 Z M58.19,65.33 L58.86,65.70 L58.71,66.22 L58.19,66.14 Z M57.15,64.59 L58.11,64.74 L57.82,65.03 L57.15,64.81 Z M50.69,40.35 L51.80,39.91 L50.32,40.28 L48.84,40.80 L47.72,41.17 L49.21,40.95 Z M128.40,118.32 L131.00,118.32 L130.48,119.06 L128.62,118.84 Z M145.70,120.32 L147.18,120.47 L146.81,120.76 Z M225.11,116.47 L226.23,116.61 L225.86,117.13 L225.11,116.98 Z M295.62,95.27 L296.37,95.49 L297.85,96.83 L297.48,96.90 L295.85,95.64 Z M305.50,93.20 L306.46,93.27 L306.39,93.79 L305.50,93.64 Z M290.06,85.27 L291.91,86.23 L293.03,87.41 L292.43,87.56 L290.43,86.23 Z M283.97,84.38 L285.23,84.23 L286.35,83.49 L286.94,83.49 L286.57,84.38 L285.23,84.89 L284.12,84.75 Z M265.56,87.93 L266.68,86.97 L268.38,86.53 L266.68,87.49 Z M259.85,86.45 L262.22,86.45 L265.19,86.45 L265.04,86.82 L261.48,86.90 L260.00,86.90 Z M268.53,78.97 L269.35,79.41 L268.90,80.30 L269.42,80.89 L268.61,80.67 Z M268.90,82.52 L270.98,82.75 L270.61,83.19 L269.13,82.97 Z"/></clipPath>
<g clip-path="url(#landclip)"><g filter="url(#blur2)">
<ellipse cx="99.7" cy="39.5" rx="20.8" ry="4.5" fill="#c5d5b8"/>
<ellipse cx="113.0" cy="52.9" rx="5.9" ry="4.5" fill="#c9d7a6"/>
<ellipse cx="127.9" cy="84.0" rx="10.4" ry="6.7" fill="#bcd19e"/>
<ellipse cx="136.8" cy="93.6" rx="5.2" ry="5.2" fill="#c8d6a8"/>
<ellipse cx="188.7" cy="80.3" rx="7.4" ry="4.5" fill="#bccf9d"/>
<ellipse cx="196.2" cy="89.2" rx="5.9" ry="3.7" fill="#c9d6a8"/>
<ellipse cx="244.4" cy="35.8" rx="33.4" ry="5.2" fill="#c4d5bb"/>
<ellipse cx="203.6" cy="38.1" rx="13.4" ry="3.7" fill="#c9d7b6"/>
<ellipse cx="187.3" cy="42.5" rx="9.6" ry="3.7" fill="#cfdbaf"/>
<ellipse cx="251.8" cy="69.2" rx="6.7" ry="6.7" fill="#c3d5a4"/>
<ellipse cx="259.3" cy="81.8" rx="11.1" ry="3.7" fill="#bed2a0"/>
<ellipse cx="257.0" cy="60.3" rx="5.9" ry="3.7" fill="#c9d8aa"/>
<ellipse cx="277.8" cy="84.0" rx="4.5" ry="2.2" fill="#bed2a0"/>
<ellipse cx="81.1" cy="39.5" rx="4.5" ry="4.5" fill="#c5d4b6"/>
<ellipse cx="118.2" cy="76.6" rx="4.5" ry="3.7" fill="#c2d4a2"/>
<ellipse cx="168.0" cy="74.4" rx="7.4" ry="2.2" fill="#cddaa9"/>
<ellipse cx="233.3" cy="64.0" rx="5.9" ry="4.5" fill="#d3dcb0"/>
<ellipse cx="182.8" cy="62.5" rx="20.8" ry="6.7" fill="#eee6d7"/>
<ellipse cx="208.0" cy="63.3" rx="6.7" ry="4.5" fill="#efe6d4"/>
<ellipse cx="216.2" cy="57.3" rx="5.2" ry="3.0" fill="#e6dfc6"/>
<ellipse cx="244.4" cy="49.2" rx="14.8" ry="3.7" fill="#e6e2c9"/>
<ellipse cx="270.4" cy="98.8" rx="9.6" ry="5.2" fill="#e9ddc0"/>
<ellipse cx="188.0" cy="98.1" rx="3.7" ry="3.7" fill="#e4dec0"/>
<ellipse cx="92.3" cy="56.6" rx="5.9" ry="4.5" fill="#e3dfc3"/>
<ellipse cx="123.4" cy="113.7" rx="3.0" ry="5.2" fill="#e2e0cf"/>
<ellipse cx="219.9" cy="49.2" rx="7.4" ry="3.7" fill="#e4e1c7"/>
<ellipse cx="120.5" cy="96.6" rx="2.2" ry="4.5" fill="#e0dccb"/>
<ellipse cx="238.5" cy="54.7" rx="11.9" ry="4.1" fill="#dcdcd8"/>
<ellipse cx="244.4" cy="57.3" rx="3.7" ry="3.0" fill="#d8d9d4"/>
<ellipse cx="121.9" cy="95.1" rx="1.9" ry="11.9" fill="#d2d3c9"/>
<ellipse cx="90.0" cy="47.0" rx="3.7" ry="8.2" fill="#d5dbc5"/>
<ellipse cx="231.8" cy="52.9" rx="3.7" ry="2.2" fill="#d6d6cf"/>
<ellipse cx="96.0" cy="29.9" rx="26.0" ry="2.6" fill="#dde2d6"/>
<ellipse cx="248.1" cy="26.9" rx="37.1" ry="3.0" fill="#d9dfd3"/>
<ellipse cx="61.1" cy="32.1" rx="7.4" ry="3.0" fill="#d4dcc4"/>
<ellipse cx="296.4" cy="32.9" rx="10.4" ry="3.7" fill="#dde1d6"/>
<ellipse cx="281.5" cy="31.4" rx="16.3" ry="3.7" fill="#dfe2d8"/>
</g></g>
<path d="M114.52,25.68 L120.46,26.94 L123.43,28.05 L124.91,29.53 L127.88,30.79 L126.40,32.13 L125.66,33.61 L123.43,33.98 L120.46,32.87 L118.98,32.50 L116.38,32.50 L116.01,31.76 L119.35,30.27 L118.23,29.53 L116.01,28.79 L113.04,28.57 L110.81,28.05 L108.21,28.05 L107.10,27.31 L110.07,25.61 Z M85.58,27.24 L86.47,26.35 L88.92,25.98 L91.88,26.50 L94.48,25.90 L96.12,26.35 L97.82,27.31 L98.56,28.42 L96.34,29.09 L93.74,29.24 L90.03,29.53 L87.80,29.02 L86.69,28.27 L88.54,27.90 L86.32,27.68 Z M80.53,27.01 L81.49,25.83 L81.86,25.24 L84.09,25.09 L86.69,25.31 L88.17,25.83 L86.47,26.57 L84.46,27.31 L82.61,27.61 Z M83.35,23.61 L86.32,23.01 L88.17,23.75 L85.58,24.12 Z M87.43,24.35 L89.29,23.53 L92.26,23.53 L95.22,24.12 L95.60,24.57 L93.00,24.86 L90.03,25.09 L87.06,24.86 Z M98.94,24.57 L101.16,23.61 L101.90,24.72 L100.42,24.79 Z M102.65,24.57 L104.87,24.57 L104.87,25.01 L102.65,25.01 Z M98.56,25.83 L101.16,25.46 L102.28,26.05 L101.90,26.94 L101.16,27.31 L98.94,26.79 Z M106.73,23.61 L107.84,22.86 L109.33,22.12 L111.55,21.53 L110.07,20.86 L107.10,20.27 L110.81,19.31 L116.75,18.86 L123.43,18.94 L127.88,19.31 L124.91,20.12 L121.94,20.79 L119.72,21.46 L117.49,22.05 L118.23,22.49 L116.01,23.23 L114.52,23.75 L110.81,23.83 Z M105.24,24.35 L108.58,23.53 L113.78,23.53 L114.52,24.35 L113.78,25.01 L108.58,25.09 L105.62,24.94 Z M103.02,25.46 L106.36,25.46 L106.73,26.20 L104.87,26.94 L103.39,26.57 Z M102.65,22.35 L104.13,21.16 L106.36,20.49 L108.58,20.86 L108.21,21.68 L106.36,22.35 Z M100.42,28.57 L102.65,28.57 L103.02,29.31 L101.53,29.53 L100.42,29.16 Z M113.78,25.83 L116.75,25.68 L117.12,26.35 L114.52,26.42 Z M95.22,22.12 L97.45,21.53 L99.68,21.90 L97.45,22.49 Z M110.07,31.76 L113.78,32.13 L114.52,33.02 L111.55,33.24 L109.33,32.50 Z M182.06,22.12 L185.78,21.01 L190.23,20.64 L193.94,20.86 L190.23,22.49 L187.26,23.61 L184.29,22.86 Z M212.50,27.31 L215.46,25.83 L218.43,23.83 L224.37,23.31 L222.89,23.98 L216.95,25.16 L215.46,27.68 L213.24,27.90 Z M244.41,21.75 L248.12,20.27 L251.83,21.38 L248.12,22.12 Z M275.58,24.35 L277.81,23.61 L284.49,24.35 L280.04,25.09 Z M156.09,31.76 L157.57,31.09 L162.02,31.02 L163.88,31.98 L162.77,32.65 L160.17,33.31 L157.20,33.02 Z M209.53,20.86 L214.72,20.12 L219.92,20.42 L216.95,21.01 Z" fill="#e9ece8"/>
<path d="M119.72,22.27 L123.43,23.98 L130.85,24.20 L133.08,26.94 L134.56,28.20 L136.05,29.16 L134.19,31.39 L136.79,33.98 L138.27,35.09 L141.24,35.83 L141.98,35.46 L144.21,32.50 L145.70,31.76 L150.15,29.68 L155.34,28.42 L157.57,27.68 L157.57,26.20 L159.80,25.09 L159.80,23.23 L159.80,21.38 L164.99,19.90 L159.06,19.38 L151.63,18.42 L144.21,18.34 L133.08,19.16 L129.37,19.53 L124.91,20.42 L121.94,21.38 Z" fill="#f6f8fa"/>
<path d="M39.56,147.74 L40.30,138.11 L47.72,138.33 L55.14,138.85 L58.86,138.48 L62.57,137.37 L66.28,136.25 L69.99,135.88 L77.41,135.36 L84.83,134.99 L92.26,135.36 L99.68,134.77 L107.10,134.25 L114.52,134.55 L118.23,133.29 L121.94,131.44 L124.91,129.58 L127.14,128.10 L130.85,127.14 L131.59,127.73 L129.37,128.84 L127.88,129.95 L127.88,132.18 L128.62,134.40 L129.37,135.88 L133.08,137.74 L140.50,138.33 L147.92,137.96 L151.63,136.62 L155.34,135.14 L160.54,134.03 L164.99,133.14 L170.19,132.77 L173.90,132.55 L181.32,132.18 L188.74,132.18 L196.17,131.96 L199.88,131.44 L203.59,131.29 L207.30,130.33 L211.01,129.81 L214.72,129.58 L218.43,130.18 L222.14,130.55 L225.86,131.44 L227.34,132.55 L229.57,131.81 L233.28,130.33 L236.99,129.73 L240.70,129.58 L248.12,129.21 L255.54,129.36 L259.26,129.95 L262.97,129.58 L270.39,129.36 L277.81,129.81 L285.23,131.07 L292.66,132.18 L296.37,132.77 L298.59,134.03 L300.08,135.14 L296.37,137.37 L300.08,138.11 L307.50,138.11 L308.24,138.11 L308.24,147.74 Z" fill="#f6f8fa"/>
<clipPath id="iceclip"><path d="M119.72,22.27 L123.43,23.98 L130.85,24.20 L133.08,26.94 L134.56,28.20 L136.05,29.16 L134.19,31.39 L136.79,33.98 L138.27,35.09 L141.24,35.83 L141.98,35.46 L144.21,32.50 L145.70,31.76 L150.15,29.68 L155.34,28.42 L157.57,27.68 L157.57,26.20 L159.80,25.09 L159.80,23.23 L159.80,21.38 L164.99,19.90 L159.06,19.38 L151.63,18.42 L144.21,18.34 L133.08,19.16 L129.37,19.53 L124.91,20.42 L121.94,21.38 Z M39.56,147.74 L40.30,138.11 L47.72,138.33 L55.14,138.85 L58.86,138.48 L62.57,137.37 L66.28,136.25 L69.99,135.88 L77.41,135.36 L84.83,134.99 L92.26,135.36 L99.68,134.77 L107.10,134.25 L114.52,134.55 L118.23,133.29 L121.94,131.44 L124.91,129.58 L127.14,128.10 L130.85,127.14 L131.59,127.73 L129.37,128.84 L127.88,129.95 L127.88,132.18 L128.62,134.40 L129.37,135.88 L133.08,137.74 L140.50,138.33 L147.92,137.96 L151.63,136.62 L155.34,135.14 L160.54,134.03 L164.99,133.14 L170.19,132.77 L173.90,132.55 L181.32,132.18 L188.74,132.18 L196.17,131.96 L199.88,131.44 L203.59,131.29 L207.30,130.33 L211.01,129.81 L214.72,129.58 L218.43,130.18 L222.14,130.55 L225.86,131.44 L227.34,132.55 L229.57,131.81 L233.28,130.33 L236.99,129.73 L240.70,129.58 L248.12,129.21 L255.54,129.36 L259.26,129.95 L262.97,129.58 L270.39,129.36 L277.81,129.81 L285.23,131.07 L292.66,132.18 L296.37,132.77 L298.59,134.03 L300.08,135.14 L296.37,137.37 L300.08,138.11 L307.50,138.11 L308.24,138.11 L308.24,147.74 Z"/></clipPath>
<g clip-path="url(#iceclip)"><path d="M119.72,22.27 L123.43,23.98 L130.85,24.20 L133.08,26.94 L134.56,28.20 L136.05,29.16 L134.19,31.39 L136.79,33.98 L138.27,35.09 L141.24,35.83 L141.98,35.46 L144.21,32.50 L145.70,31.76 L150.15,29.68 L155.34,28.42 L157.57,27.68 L157.57,26.20 L159.80,25.09 L159.80,23.23 L159.80,21.38 L164.99,19.90 L159.06,19.38 L151.63,18.42 L144.21,18.34 L133.08,19.16 L129.37,19.53 L124.91,20.42 L121.94,21.38 Z M40.30,138.11 L47.72,138.33 L55.14,138.85 L58.86,138.48 L62.57,137.37 L66.28,136.25 L69.99,135.88 L77.41,135.36 L84.83,134.99 L92.26,135.36 L99.68,134.77 L107.10,134.25 L114.52,134.55 L118.23,133.29 L121.94,131.44 L124.91,129.58 L127.14,128.10 L130.85,127.14 L131.59,127.73 L129.37,128.84 L127.88,129.95 L127.88,132.18 L128.62,134.40 L129.37,135.88 L133.08,137.74 L140.50,138.33 L147.92,137.96 L151.63,136.62 L155.34,135.14 L160.54,134.03 L164.99,133.14 L170.19,132.77 L173.90,132.55 L181.32,132.18 L188.74,132.18 L196.17,131.96 L199.88,131.44 L203.59,131.29 L207.30,130.33 L211.01,129.81 L214.72,129.58 L218.43,130.18 L222.14,130.55 L225.86,131.44 L227.34,132.55 L229.57,131.81 L233.28,130.33 L236.99,129.73 L240.70,129.58 L248.12,129.21 L255.54,129.36 L259.26,129.95 L262.97,129.58 L270.39,129.36 L277.81,129.81 L285.23,131.07 L292.66,132.18 L296.37,132.77 L298.59,134.03 L300.08,135.14 L296.37,137.37 L300.08,138.11 L307.50,138.11" fill="none" stroke="#b7c3cf" stroke-width="3.2" filter="url(#blur1)" opacity="0.8"/></g>
<path d="M208.78,47.32 L210.27,45.84 L212.12,45.47 L213.24,45.84 L213.24,46.95 L211.75,47.32 L211.38,47.69 L212.12,48.80 L213.24,49.17 L213.09,50.66 L213.83,52.51 L212.12,53.03 L210.27,52.51 L210.64,50.51 L209.38,49.17 Z M194.68,49.69 L195.57,49.77 L197.28,49.77 L199.88,49.17 L202.10,49.91 L204.70,49.54 L204.70,48.65 L203.22,47.69 L201.73,47.10 L200.99,46.73 L199.88,46.95 L198.76,47.32 L198.39,46.73 L196.91,45.84 L196.17,46.51 L195.87,46.95 L195.05,48.06 Z" fill="#7bacce"/>
<path d="M197.50,81.04 L198.39,80.08 L199.14,80.15 L199.73,80.52 L199.14,81.41 L198.76,82.15 L197.65,82.00 L197.35,81.41 Z M195.50,82.75 L195.80,82.89 L196.17,84.38 L196.76,85.49 L196.91,86.60 L196.61,86.75 L196.02,85.86 L195.65,84.75 L195.50,83.64 Z M199.14,87.34 L199.51,88.08 L199.73,89.56 L200.10,90.90 L199.73,90.97 L199.36,89.93 L199.28,88.82 L199.06,87.71 Z M105.62,45.69 L107.84,44.50 L109.70,44.21 L110.96,45.10 L111.18,45.84 L109.33,45.84 L107.10,45.76 Z M108.73,49.17 L108.96,47.69 L109.33,46.58 L110.81,46.21 L110.44,46.95 L109.85,48.06 L109.85,49.17 Z M111.18,46.36 L112.67,46.28 L114.15,46.73 L113.41,47.32 L112.74,48.36 L111.92,47.69 L111.55,46.80 Z M111.92,49.40 L113.78,49.03 L115.26,48.58 L114.52,48.80 L112.67,49.54 Z M114.67,48.21 L116.75,47.84 L117.34,47.62 L117.12,48.21 L115.64,48.21 Z M250.94,42.06 L252.20,41.54 L253.32,41.02 L254.43,40.28 L255.40,39.02 L255.02,38.95 L254.06,39.91 L252.80,40.87 L251.46,41.76 Z M217.10,45.84 L218.43,45.99 L219.55,46.95 L218.80,47.69 L217.69,47.54 L217.17,46.95 Z M100.79,35.09 L103.39,35.83 L104.50,35.09 Z M81.86,31.02 L86.32,31.02 L87.06,32.13 L84.09,32.50 L82.24,31.98 Z M86.69,35.09 L90.77,34.20 L93.00,33.83 L91.51,34.94 L88.17,35.24 Z M100.05,41.02 L101.90,40.65 L101.53,42.50 L100.42,42.87 Z" fill="#7bacce"/>
<path d="M82.38,43.99 L103.24,43.99 L103.24,43.69 L107.47,44.73 L111.18,45.84 L112.67,46.58 L112.74,48.43 L115.26,48.21 L117.12,47.54 L118.46,46.95 L120.83,46.95 L121.94,45.69 L122.69,45.17 L123.58,45.47 L123.80,46.58 L124.17,47.10 M69.25,28.72 L69.25,35.61 L70.73,35.83 L71.84,36.57 L73.33,35.98 L74.81,37.02 L76.67,38.80 L77.41,39.32 M86.99,56.21 L88.77,56.07 L91.51,57.10 L93.59,57.10 L93.59,56.73 L94.85,56.73 L96.34,58.36 L97.45,58.81 L98.64,58.21 L100.05,59.92 L101.76,61.11 M105.47,69.55 L105.62,68.44 L106.06,67.48 L106.73,67.11 L107.69,67.11 L108.36,66.59 M107.69,67.11 L107.69,68.52 M107.55,69.63 L108.96,70.30 M108.96,70.67 L110.96,69.33 L112.15,69.18 M110.29,72.15 L111.78,72.15 M112.30,74.15 L112.37,73.19 M120.53,71.70 L120.09,73.63 L120.46,75.11 L121.94,75.19 L123.58,75.63 L123.80,77.34 L123.95,78.82 L124.25,79.41 M129.37,74.00 L128.62,75.11 L129.00,76.45 L127.51,77.34 L126.03,77.34 L124.25,79.41 L122.09,79.04 L122.32,81.04 L121.94,83.41 L119.72,85.86 L120.09,87.34 L121.57,88.45 L122.32,88.45 L125.28,87.71 L128.25,90.30 L129.37,92.16 L130.85,93.27 L132.71,96.97 L133.60,98.09 L133.45,99.27 L134.04,100.31 L131.15,102.68 L134.27,105.28 M131.22,76.00 L130.48,79.19 L132.34,78.82 L133.82,77.56 L135.30,78.60 L135.53,77.19 M115.26,79.26 L116.75,80.00 L118.01,80.37 L117.79,81.41 L116.01,82.52 L114.30,82.89 M118.01,80.37 L119.72,81.04 L121.94,83.41 M122.24,93.27 L122.91,94.38 L123.21,96.97 L123.06,98.46 L122.69,100.68 L121.94,102.53 L121.94,104.76 L121.57,106.98 L121.20,109.20 L120.68,111.43 L120.83,113.65 L120.09,115.87 L119.50,117.36 L120.46,118.47 L122.69,118.91 M121.65,93.86 L122.24,93.27 L122.69,91.79 L122.32,88.45 M123.21,96.97 L125.66,96.60 L127.51,96.83 L128.62,95.12 L130.85,94.97 L130.85,93.27 M127.51,96.83 L129.37,98.09 L130.85,99.20 L133.45,99.27 M130.55,105.50 L130.85,102.90 L131.15,102.68 M172.56,54.29 L172.79,56.21 L171.15,56.88 L167.44,59.18 L167.44,59.77 L164.10,59.77 M167.44,60.07 L170.34,61.77 L174.79,64.74 L177.02,66.07 L178.20,65.85 L182.73,62.88 M180.28,52.95 L179.99,54.73 L179.47,55.84 L180.95,57.92 L181.32,61.77 L182.73,62.88 M182.36,55.70 L181.32,56.96 L180.95,57.92 M192.46,56.88 L192.46,64.00 L201.29,64.00 M182.73,62.88 L184.29,63.63 L185.40,63.25 L191.71,65.85 L191.71,65.48 L192.46,65.48 L192.46,64.00 M161.28,64.51 L164.25,64.51 L164.25,63.25 L164.99,62.88 L164.99,61.03 L167.44,60.07 M161.65,68.07 L163.51,68.00 L164.99,69.55 L165.44,68.89 L169.89,68.81 L169.45,64.74 L170.34,61.77 M169.89,68.81 L171.67,69.33 L174.05,69.26 L176.87,68.81 L177.02,66.07 M174.05,69.26 L174.64,70.67 L175.98,71.41 L176.57,71.63 L176.87,70.30 L178.72,70.44 L180.58,70.81 L183.18,70.30 L183.99,70.15 L185.40,69.92 L185.40,65.48 L185.40,63.25 M183.99,70.15 L184.66,71.41 L183.92,72.89 L182.66,75.11 L181.17,76.00 L180.28,76.82 M175.90,75.63 L175.98,71.41 M174.79,75.78 L174.27,72.15 M173.90,76.08 L173.83,72.15 M171.75,76.59 L171.90,73.26 L171.90,72.15 L169.82,72.52 L169.89,68.81 M168.33,77.04 L167.59,74.74 L167.96,72.89 L165.36,71.11 L164.99,69.55 M165.36,75.11 L166.11,74.15 L166.48,73.63 M164.03,73.56 L165.36,71.11 M161.50,71.11 L163.73,70.89 L165.36,71.11 M185.40,69.92 L185.78,72.89 L185.03,74.37 L186.15,74.74 L187.71,74.00 L190.60,72.37 L191.34,73.26 M191.71,65.48 L190.23,68.81 L191.34,72.15 L190.60,72.37 M191.34,73.26 L193.94,73.26 L196.17,72.89 L197.65,71.41 L198.54,72.52 L199.14,73.26 M200.99,69.70 L200.10,71.33 L199.36,72.44 L199.14,74.00 L199.88,76.59 L198.76,77.48 L196.76,77.71 M201.29,64.00 L202.48,66.96 L200.99,69.70 M184.66,71.41 L185.40,74.74 L186.15,78.08 L187.71,77.71 L189.49,76.97 L192.08,76.59 L194.31,76.59 L196.76,77.71 L195.94,81.26 L195.57,82.52 L196.17,86.45 M181.17,78.67 L182.29,78.67 L185.78,78.89 L186.15,78.08 M182.29,78.67 L182.29,79.56 L180.80,79.56 M182.29,79.56 L184.66,82.00 L182.81,84.01 M187.71,77.71 L186.89,81.04 L185.78,81.78 L185.63,83.26 L182.96,84.60 M182.96,84.75 L185.78,84.75 L186.15,86.23 L188.00,86.23 L189.49,85.49 L190.23,88.45 L191.71,88.45 L191.71,89.93 L193.94,89.19 L195.05,89.42 L195.80,89.93 L196.17,86.45 M191.71,89.93 L190.23,89.93 L190.23,92.38 L191.27,93.34 L192.68,93.49 L194.68,92.53 L196.39,91.86 L198.32,92.53 L198.17,95.49 L197.13,96.90 L197.65,100.16 M196.17,86.45 L198.39,87.34 L199.51,88.82 L199.88,88.82 L201.73,88.82 L203.89,88.08 M199.51,88.82 L199.51,90.68 L198.39,90.68 L196.39,91.86 M199.06,81.04 L201.73,82.60 L203.00,83.78 M199.06,81.04 L196.54,81.04 L195.94,81.26 M199.06,81.04 L199.73,79.41 L199.14,77.19 L198.76,77.48 M200.25,76.89 L202.10,77.63 L204.33,77.34 L205.00,77.34 M204.33,77.34 L209.45,74.37 L206.56,73.63 L205.67,72.15 M204.33,77.34 L204.33,81.56 M182.66,93.12 L183.92,93.20 L187.63,93.20 L189.49,93.64 L191.27,93.34 M189.49,93.64 L188.74,96.60 L188.74,98.68 L188.74,101.35 L186.52,101.42 L186.15,101.50 M188.74,98.68 L190.97,99.20 L193.05,99.20 L193.94,98.46 L195.65,96.75 L197.13,96.90 M192.68,93.49 L193.20,94.01 L194.31,95.49 L195.65,96.75 M208.78,45.47 L210.64,44.73 L211.75,42.65 L214.72,42.87 L219.18,42.65 L219.55,41.39 L219.18,40.28 L222.14,39.84 L225.11,39.32 L228.45,40.28 L230.31,40.13 L231.79,41.02 L233.50,42.58 L236.25,42.50 L238.70,43.91 M238.70,43.91 L237.36,45.10 L235.50,45.47 L235.13,46.58 L233.28,46.95 L233.50,48.80 L229.94,50.29 L228.82,51.40 L229.57,52.88 M238.70,43.91 L240.70,42.87 L243.67,42.87 L246.64,41.98 L249.61,42.13 L252.58,43.02 L254.43,43.62 L258.51,43.02 L260.52,43.39 M239.07,43.91 L241.22,46.21 L245.15,48.65 L248.86,48.80 L251.83,49.47 L255.54,48.73 L257.03,47.91 L261.11,45.84 L262.89,45.69 L260.52,43.39 M260.52,43.39 L262.97,41.32 L267.42,41.17 L268.53,43.39 L271.13,44.95 L273.88,44.50 L272.62,46.95 L271.13,48.58 L270.83,48.88 M266.31,50.66 L267.42,49.54 L268.90,49.17 L270.83,48.88 M267.94,52.21 L269.20,51.84 M213.24,49.17 L215.46,49.69 L215.46,46.95 L217.39,46.51 L219.18,47.39 L221.40,48.06 L224.37,49.91 L226.60,48.58 L228.82,48.43 L233.50,48.80 M213.91,52.66 L216.21,52.14 L219.18,53.18 L219.62,57.03 L219.10,58.21 L220.51,59.40 L219.62,61.62 M219.18,53.18 L222.14,52.51 L224.37,52.80 L226.97,52.21 L229.20,52.88 M219.10,58.21 L221.40,58.44 L223.26,58.14 L225.34,56.66 L226.23,55.18 L226.97,53.25 L229.20,52.88 M224.52,62.74 L226.60,62.22 L226.23,59.55 L228.82,57.33 L229.27,56.21 L231.64,54.06 M231.64,54.06 L232.54,54.88 L232.39,56.21 L233.50,57.70 L234.17,58.07 L236.25,59.18 L239.22,59.62 L239.81,60.07 L242.18,59.70 L245.15,58.51 L246.12,59.33 M233.50,59.10 L236.25,60.07 L239.36,60.73 M246.12,59.33 L244.41,60.66 L244.04,62.51 L243.15,63.63 L242.41,64.74 M239.36,60.73 L239.96,61.62 L239.59,63.25 L239.96,64.14 M240.55,61.03 L242.18,61.62 L242.41,62.51 M246.27,59.55 L247.01,61.40 L246.42,62.51 L247.75,63.85 L249.46,64.59 L250.35,63.63 L253.10,63.40 L254.06,64.29 M248.12,65.26 L247.01,67.33 L247.38,68.81 L247.75,72.15 M248.12,65.26 L249.01,65.85 L249.98,67.03 L251.61,67.33 L252.20,69.55 L250.35,69.70 L249.98,71.04 M249.76,63.70 L251.09,65.11 L251.83,66.59 L253.17,68.07 L253.69,69.55 L252.58,71.78 L251.46,72.52 M201.29,58.66 L202.10,57.70 L203.96,56.73 L207.08,58.66 L208.41,58.73 L209.38,59.18 M205.82,67.70 L208.41,67.48 L212.50,66.22 L215.17,64.00 L214.72,62.51 L212.12,62.29 M212.50,66.22 L213.24,68.00 M206.56,52.73 L207.67,54.36 L208.04,55.84 L209.38,57.33 L209.90,58.14 M200.62,53.03 L202.10,53.03 L205.07,52.80 L207.15,52.73 L206.78,51.77 L207.15,50.88 L206.19,49.84 L204.70,49.54 M205.07,52.80 L204.33,54.81 L202.70,55.55 L201.29,56.36 L200.32,56.07 M200.55,53.99 L200.99,54.66 L200.32,55.62 M199.80,58.44 L200.25,56.96 L200.32,56.07 M198.84,41.54 L200.25,42.87 L202.10,43.32 L203.59,43.54 L203.44,44.87 L202.25,45.39 M191.42,42.13 L193.94,41.91 L196.91,42.21 L198.84,41.54 M197.50,41.69 L197.28,40.28 L196.76,39.17 L194.83,38.72 L194.46,37.83 L194.53,36.20 M190.75,43.62 L191.71,42.65 L191.34,41.32 L191.34,40.28 M189.49,39.32 L191.34,40.28 M189.49,38.80 L193.57,39.02 L194.83,38.72 M189.56,38.43 L191.94,37.39 L194.31,37.54 M194.68,35.46 L195.80,34.65 L197.28,33.68 L196.17,32.87 L195.94,31.39 L195.80,30.27 L195.05,29.53 L195.35,29.09 M191.64,31.53 L191.71,30.27 L189.49,29.09 L192.46,29.31 L195.35,29.09 M182.66,36.57 L183.18,35.09 L182.96,33.24 L184.66,31.76 L186.15,30.05 L187.26,29.53 L189.12,29.16 M172.56,48.14 L176.28,48.80 M168.70,49.17 L167.81,49.17 L169.08,49.54 L168.70,51.03 L168.48,52.29 M175.76,42.43 L177.02,43.24 L178.20,43.62 L179.99,43.99 L179.54,45.02 L179.02,45.91 L179.10,47.54 L179.47,47.84 M184.44,40.35 L184.74,41.76 L185.03,42.50 L183.18,43.02 L184.14,44.13 L183.55,45.10 L181.32,45.10 L179.54,45.02 M180.28,39.61 L181.25,39.69 M179.24,40.87 L178.35,41.91 L178.35,42.73 L178.65,43.62 M176.42,42.21 L178.28,42.65 M185.03,42.50 L187.85,43.47 L190.75,43.62 M184.14,44.13 L186.52,44.73 L190.60,44.50 M186.52,44.73 L186.15,45.84 L188.00,46.21 L190.23,44.95 M190.75,44.80 L193.64,44.50 L194.83,46.58 M190.75,47.69 L195.13,47.91 M190.75,47.69 L189.86,46.95 L189.12,46.21 L188.00,46.21 M190.75,47.69 L190.60,49.03 L189.49,49.91 L189.12,50.66 L188.30,50.29 M190.60,49.03 L193.20,49.17 L194.68,49.17 M190.23,49.91 L193.42,49.62 M185.40,46.21 L186.15,45.84 M183.99,46.51 L185.03,46.58 L188.00,46.95 L188.30,48.80 M179.10,46.28 L180.58,45.84 L181.69,45.54 L182.96,45.47 L184.07,45.84 L183.99,46.51 M203.59,48.14 L206.19,48.73 L208.41,49.32 L209.90,49.32 M206.19,49.84 L208.41,49.32 M207.15,50.88 L208.04,51.47 L209.53,51.84" fill="none" stroke="#6a675c" stroke-width="0.35" stroke-opacity="0.55" stroke-linejoin="round"/>
<path d="M84.83,13.6 V147.0 M129.37,13.6 V147.0 M173.90,13.6 V147.0 M218.43,13.6 V147.0 M262.97,13.6 V147.0 M40.3,35.83 H307.5 M40.3,58.07 H307.5 M40.3,80.30 H307.5 M40.3,102.53 H307.5 M40.3,124.77 H307.5" stroke="#b9b4aa" stroke-width="0.6" fill="none" opacity="0.6"/>
<circle cx="90.0" cy="49.7" r="2.3" fill="#7ff8f8"/>
<circle cx="88.5" cy="53.5" r="1.7" fill="#ff2a1a"/>
<circle cx="107.6" cy="43.5" r="2.0" fill="#7ff8f8"/>
<circle cx="109.1" cy="46" r="2.0" fill="#7ff8f8"/>
<circle cx="109.1" cy="47.9" r="2.0" fill="#7ff8f8"/>
<circle cx="112.4" cy="50" r="2.0" fill="#7ff8f8"/>
<circle cx="114.2" cy="50.8" r="2.0" fill="#7ff8f8"/>
<circle cx="105.5" cy="44.5" r="1.6" fill="#7ff8f8"/>
<circle cx="111" cy="48.5" r="1.8" fill="#7ff8f8"/>
<circle cx="106.5" cy="43.5" r="2.0" fill="#7ff8f8"/>
<circle cx="108" cy="45" r="2.0" fill="#7ff8f8"/>
<circle cx="106.8" cy="47.3" r="1.8" fill="#7ff8f8"/>
<circle cx="109.5" cy="48.8" r="2.0" fill="#7ff8f8"/>
<circle cx="111.5" cy="49.6" r="2.0" fill="#7ff8f8"/>
<circle cx="116" cy="51" r="1.9" fill="#7ff8f8"/>
<circle cx="110.5" cy="46.3" r="1.8" fill="#7ff8f8"/>
<circle cx="115.7" cy="47.1" r="2.3" fill="#0a0aff"/>
<circle cx="118.2" cy="47.5" r="2.3" fill="#0a0aff"/>
<circle cx="117" cy="46" r="2.0" fill="#0a0aff"/>
<circle cx="118" cy="48.5" r="2.0" fill="#0a0aff"/>
<circle cx="128.9" cy="81.9" r="1.8" fill="#7ff8f8"/>
<circle cx="132.4" cy="81.9" r="1.8" fill="#7ff8f8"/>
<circle cx="136.0" cy="94.8" r="2.0" fill="#7ff8f8"/>
<circle cx="132.4" cy="99.8" r="1.8" fill="#7ff8f8"/>
<circle cx="131.4" cy="101" r="1.8" fill="#7ff8f8"/>
<circle cx="127.7" cy="103.7" r="1.8" fill="#7ff8f8"/>
<circle cx="125.4" cy="102.4" r="1.7" fill="#ff2a1a"/>
<circle cx="184.3" cy="69.3" r="1.8" fill="#7ff8f8"/>
<circle cx="183.1" cy="71.2" r="1.8" fill="#7ff8f8"/>
<circle cx="183.5" cy="73.4" r="1.6" fill="#ff2a1a"/>
<circle cx="201.5" cy="71.5" r="2.0" fill="#7ff8f8"/>
<circle cx="201.9" cy="75.4" r="1.7" fill="#ff2a1a"/>
<circle cx="196.1" cy="77.8" r="1.5" fill="#ff2a1a"/>
<circle cx="198" cy="78.9" r="2.0" fill="#7ff8f8"/>
<circle cx="199.3" cy="79.8" r="2.0" fill="#7ff8f8"/>
<circle cx="200.6" cy="77.6" r="2.0" fill="#7ff8f8"/>
<circle cx="201.1" cy="82.4" r="1.4" fill="#ff2a1a"/>
<circle cx="195.0" cy="88.0" r="1.5" fill="#ff2a1a"/>
<circle cx="197.2" cy="88.4" r="2.0" fill="#7ff8f8"/>
<circle cx="195.4" cy="91" r="2.0" fill="#7ff8f8"/>
<circle cx="194.1" cy="92.8" r="1.8" fill="#7ff8f8"/>
<circle cx="199.9" cy="90.9" r="2.8" fill="#ff2a1a"/>
<circle cx="192.8" cy="95.6" r="2.2" fill="#ff2a1a"/>
<circle cx="195.2" cy="84.8" r="2.9" fill="#0a0aff"/>
<circle cx="205.5" cy="51.4" r="2.0" fill="#7ff8f8"/>
<circle cx="207.5" cy="52.9" r="2.0" fill="#7ff8f8"/>
<circle cx="204.4" cy="51.4" r="1.8" fill="#7ff8f8"/>
<circle cx="206.0" cy="55.9" r="2.3" fill="#0a0aff"/>
<circle cx="213.9" cy="54.7" r="2.0" fill="#ff2a1a"/>
<circle cx="212.4" cy="49.9" r="1.8" fill="#2aa6a6"/>
<circle cx="208.9" cy="47.5" r="1.6" fill="#ff2a1a"/>
<circle cx="209.9" cy="49.9" r="1.5" fill="#ff2a1a"/>
<circle cx="210.7" cy="51.9" r="1.4" fill="#ff2a1a"/>
<circle cx="211.9" cy="46.5" r="1.6" fill="#ff2a1a"/>
<circle cx="213.9" cy="46" r="1.8" fill="#ff2a1a"/>
<circle cx="213.4" cy="47.5" r="1.6" fill="#ff2a1a"/>
<circle cx="217.4" cy="46.5" r="2.2" fill="#7ff8f8"/>
<circle cx="218.9" cy="47" r="2.2" fill="#7ff8f8"/>
<circle cx="216.4" cy="49.9" r="2.0" fill="#7ff8f8"/>
<circle cx="215.5" cy="48.2" r="2.0" fill="#7ff8f8"/>
<circle cx="223.8" cy="49.9" r="2.0" fill="#7ff8f8"/>
<circle cx="228.8" cy="45.7" r="2.5" fill="#0a0aff"/>
<circle cx="231" cy="47.7" r="2.2" fill="#0a0aff"/>
<circle cx="231" cy="49.9" r="1.8" fill="#7ff8f8"/>
<circle cx="237.8" cy="49.3" r="1.9" fill="#0a0aff"/>
<circle cx="240.1" cy="52.5" r="1.9" fill="#7ff8f8"/>
<circle cx="246.8" cy="52.5" r="2.3" fill="#0a0aff"/>
<circle cx="248.1" cy="52.8" r="2.3" fill="#0a0aff"/>
<circle cx="245.5" cy="54.5" r="2.0" fill="#0a0aff"/>
<circle cx="242.0" cy="57.2" r="1.3" fill="#ff2a1a"/>
<circle cx="237.5" cy="57" r="2.1" fill="#0a0aff"/>
<circle cx="239.7" cy="56.4" r="2.1" fill="#0a0aff"/>
<circle cx="240.7" cy="59" r="1.9" fill="#0a0aff"/>
<circle cx="255.9" cy="57.4" r="1.8" fill="#7ff8f8"/>
<circle cx="261.4" cy="57.4" r="1.8" fill="#7ff8f8"/>
<circle cx="275.4" cy="100.6" r="2.0" fill="#7ff8f8"/>
<circle cx="274.4" cy="103.6" r="2.2" fill="#0a0aff"/>
<circle cx="277.3" cy="103.3" r="2.2" fill="#0a0aff"/>
<circle cx="275.8" cy="104.2" r="2.0" fill="#0a0aff"/>
<path d="M49.21,31.76 L50.69,29.53 L52.92,28.27 L57.74,27.46 L61.08,27.83 L66.28,28.35 L69.25,28.64 L72.96,29.16 L77.41,28.42 L81.12,28.79 L86.32,29.39 L92.26,29.90 L96.71,29.90 L101.16,30.05 L103.39,29.53 L104.13,27.31 L105.62,28.79 L108.58,29.90 L110.81,28.79 L113.41,30.27 L112.30,31.39 L110.07,31.24 L109.33,32.50 L106.36,33.76 L104.13,35.09 L103.76,36.57 L105.24,38.06 L108.58,38.80 L112.67,39.54 L114.52,42.13 L115.41,39.54 L116.75,37.32 L116.01,35.46 L116.38,33.98 L119.72,34.35 L121.94,35.09 L122.32,36.57 L125.28,36.20 L126.03,35.61 L128.62,38.80 L130.85,40.28 L132.34,41.76 L129.37,43.10 L124.91,43.24 L122.69,44.36 L121.20,45.62 L123.43,44.13 L126.03,43.99 L125.66,45.10 L126.40,46.21 L128.62,46.51 L129.37,46.21 L126.77,47.32 L124.91,47.69 L121.94,48.06 L121.57,49.32 L120.46,49.91 L118.98,50.29 L118.98,51.40 L117.86,52.14 L117.49,52.88 L117.86,53.99 L116.75,54.73 L115.26,55.47 L113.78,56.96 L113.56,58.07 L114.37,60.29 L114.23,61.62 L113.41,61.40 L112.52,59.92 L112.30,58.81 L111.18,58.07 L110.07,57.77 L108.58,57.77 L107.47,58.07 L107.84,58.73 L106.36,58.59 L104.13,58.36 L103.39,58.81 L101.68,59.92 L101.53,61.40 L101.31,64.00 L101.90,65.48 L102.65,66.22 L103.76,66.81 L105.62,66.52 L106.36,66.22 L106.73,64.88 L107.10,64.59 L109.33,64.37 L108.96,65.48 L108.58,66.96 L108.21,68.44 L110.07,68.59 L111.92,69.18 L111.92,71.41 L111.78,72.15 L113.04,73.63 L114.52,73.41 L116.38,74.00 L116.08,74.89 L114.52,74.74 L113.04,74.22 L110.29,72.89 L110.22,71.78 L108.96,70.67 L105.99,69.92 L104.13,68.44 L102.28,68.66 L100.42,67.85 L98.19,66.96 L95.60,65.11 L95.82,64.22 L95.22,63.25 L93.37,61.40 L92.26,60.29 L90.40,58.44 L88.92,56.96 L90.03,58.81 L90.77,60.29 L91.88,62.51 L92.63,63.25 L91.88,62.88 L90.77,61.77 L89.29,59.92 L88.54,58.44 L87.43,56.73 L86.91,56.14 L85.95,55.10 L84.39,54.73 L83.35,53.03 L82.98,52.36 L81.86,50.66 L81.57,49.17 L81.86,46.21 L81.34,44.43 L82.61,44.58 L82.61,43.99 L81.12,43.24 L78.90,42.50 L77.41,39.91 L75.18,38.06 L72.96,36.95 L70.36,36.06 L67.76,35.83 L65.54,35.09 L64.05,35.46 L62.57,35.09 L61.45,36.35 L59.60,36.95 L57.37,38.06 L55.14,38.80 L52.92,39.69 L55.14,38.95 L56.63,37.69 L57.37,36.72 L53.66,36.80 L51.80,35.83 L51.06,34.72 L51.43,33.98 L52.18,33.46 L54.40,32.72 L54.40,32.35 L52.92,32.42 L50.32,32.50 Z M116.38,74.00 L117.49,73.26 L117.86,72.52 L118.98,72.00 L120.46,71.18 L120.83,72.15 L121.94,71.26 L123.43,72.52 L125.66,72.74 L127.51,72.37 L128.62,72.89 L129.37,74.00 L130.85,75.26 L133.08,75.93 L135.30,76.74 L136.05,77.34 L136.79,78.97 L136.79,80.30 L137.90,81.04 L139.02,80.82 L140.87,82.15 L142.73,82.38 L144.21,82.38 L145.70,83.12 L147.77,84.38 L147.92,85.86 L147.77,86.97 L146.44,88.45 L145.18,89.93 L144.80,93.27 L144.21,95.12 L143.47,96.60 L141.61,97.35 L140.50,97.86 L138.64,98.83 L137.83,99.94 L137.68,101.42 L136.57,102.90 L135.16,104.16 L134.19,105.50 L133.08,106.24 L131.96,106.09 L130.55,105.87 L131.44,106.98 L131.82,107.35 L131.15,108.61 L129.37,109.13 L127.73,109.06 L127.66,110.31 L126.03,110.54 L125.66,111.43 L126.40,111.80 L125.28,113.65 L123.80,114.76 L124.91,115.87 L123.21,117.43 L122.69,118.54 L123.13,119.13 L121.94,119.36 L123.06,119.80 L125.43,120.99 L123.43,121.43 L121.20,121.06 L118.98,119.21 L117.86,117.36 L118.60,115.13 L117.79,114.76 L118.98,112.91 L119.35,111.06 L119.20,108.46 L120.09,106.61 L120.68,104.76 L120.83,102.53 L121.42,100.68 L121.80,97.72 L121.72,93.86 L120.46,92.90 L118.08,91.64 L117.27,90.30 L116.60,89.19 L115.64,87.34 L114.52,85.49 L113.63,84.38 L114.30,82.89 L113.85,81.93 L114.52,81.04 L114.37,79.93 L115.26,79.26 L115.64,78.45 L116.53,77.34 L116.53,75.48 L116.08,74.89 Z M169.74,53.62 L169.22,53.03 L168.33,52.73 L167.22,52.88 L167.37,51.62 L166.85,51.03 L167.37,49.91 L167.00,48.43 L167.96,47.91 L170.19,48.06 L172.42,48.14 L172.79,47.69 L173.01,46.21 L172.27,45.32 L170.56,44.80 L170.41,44.28 L172.71,44.21 L172.94,43.54 L173.90,43.69 L175.01,43.10 L175.76,42.43 L176.57,42.13 L177.24,41.39 L177.61,40.87 L179.10,40.58 L180.21,40.50 L180.28,39.17 L179.99,38.20 L181.69,37.54 L181.69,38.58 L181.32,39.54 L181.92,40.06 L183.18,39.98 L184.51,40.35 L187.63,39.76 L189.49,39.54 L189.56,38.43 L191.64,38.06 L192.01,37.09 L191.34,36.43 L194.68,36.20 L196.17,35.83 L194.68,35.46 L190.90,35.83 L189.78,35.24 L189.86,33.61 L192.60,32.13 L190.23,31.53 L189.71,32.50 L188.00,33.24 L186.89,34.13 L186.81,35.31 L187.78,35.98 L186.52,36.95 L186.22,38.06 L185.78,38.65 L184.44,39.24 L183.40,39.09 L183.18,38.20 L182.66,37.17 L182.06,36.57 L181.69,36.20 L180.95,36.65 L179.84,37.24 L178.35,37.02 L177.98,36.20 L177.61,35.09 L177.83,34.35 L179.10,33.76 L180.58,33.24 L182.06,32.28 L183.18,31.39 L184.66,30.27 L185.78,29.31 L187.26,28.72 L188.74,28.42 L191.34,28.05 L192.98,27.61 L195.05,27.76 L196.91,28.20 L198.39,28.87 L200.62,29.09 L203.96,30.05 L204.33,31.16 L202.48,31.39 L199.88,32.50 L201.36,32.87 L203.59,32.50 L206.56,31.24 L206.56,29.68 L208.04,29.83 L210.27,30.05 L213.61,29.53 L216.95,29.39 L218.80,28.57 L222.14,28.94 L224.74,29.76 L223.26,27.83 L225.11,26.20 L226.60,26.35 L227.71,27.53 L227.93,29.53 L229.57,29.53 L228.82,26.94 L231.05,26.72 L233.28,25.83 L237.73,25.09 L238.47,24.57 L244.41,23.98 L248.12,23.61 L251.31,22.72 L252.58,22.94 L257.03,23.61 L258.14,25.75 L261.48,26.05 L265.94,25.75 L268.16,25.83 L269.65,26.94 L271.87,27.31 L276.33,27.24 L279.30,26.42 L282.26,26.72 L285.23,27.31 L287.46,27.76 L290.43,27.68 L292.66,28.42 L293.40,28.79 L296.37,28.64 L300.08,28.35 L304.53,28.57 L307.87,29.16 L307.87,32.13 L306.76,32.35 L305.27,33.98 L303.05,34.50 L300.08,35.83 L297.11,35.98 L295.62,35.91 L295.25,37.69 L294.14,38.65 L294.29,39.69 L292.66,41.02 L291.54,41.76 L290.21,42.50 L289.69,41.39 L289.32,39.54 L289.69,37.69 L291.17,37.32 L292.66,35.46 L294.88,34.35 L292.66,34.72 L289.69,34.72 L286.72,36.43 L284.12,36.35 L280.04,36.35 L278.18,37.17 L275.96,38.65 L274.10,39.76 L276.33,40.43 L278.18,40.87 L278.78,41.61 L278.18,44.36 L276.33,45.84 L274.47,47.84 L272.62,48.58 L271.13,48.73 L270.24,49.91 L268.90,50.66 L268.53,51.10 L269.94,52.88 L269.87,54.21 L268.16,54.66 L267.64,54.66 L267.79,53.47 L267.87,52.51 L266.68,52.29 L266.75,51.03 L266.16,50.73 L264.08,51.40 L264.30,50.06 L263.71,49.99 L262.22,51.17 L261.48,51.25 L261.19,51.69 L262.08,52.58 L263.71,52.29 L264.82,52.73 L263.34,53.62 L262.37,54.51 L263.56,56.14 L264.30,56.81 L264.08,57.47 L264.45,58.21 L263.86,59.55 L262.60,61.03 L261.48,62.14 L260.00,63.40 L258.51,63.77 L257.03,64.14 L255.92,64.59 L255.40,64.37 L254.43,64.29 L252.95,65.26 L252.35,66.22 L253.32,67.85 L253.69,68.22 L254.65,68.96 L255.02,70.67 L254.95,71.70 L254.06,72.37 L253.10,72.59 L251.68,73.93 L251.91,72.96 L251.46,72.52 L250.35,71.78 L249.83,71.26 L248.79,70.89 L248.27,70.30 L248.05,71.41 L247.53,72.74 L248.34,74.07 L248.57,75.11 L249.09,75.19 L249.83,75.85 L250.65,76.74 L250.65,78.22 L251.24,79.26 L250.72,79.34 L249.24,78.22 L248.42,76.89 L248.34,75.71 L247.97,75.26 L247.01,74.22 L246.86,73.04 L247.08,71.41 L246.79,70.30 L246.49,68.44 L246.12,67.85 L245.30,67.85 L244.41,68.59 L243.89,68.15 L244.11,66.59 L243.37,65.63 L242.41,64.88 L242.04,63.63 L241.07,63.85 L239.96,64.14 L239.22,64.29 L238.40,64.74 L238.10,65.33 L236.99,66.00 L235.88,66.96 L234.98,68.00 L234.17,68.59 L233.43,69.04 L233.43,70.67 L233.13,71.78 L233.13,72.67 L232.46,73.56 L231.42,74.30 L230.68,73.41 L230.16,71.78 L229.42,70.67 L228.90,69.18 L228.38,68.07 L228.01,66.22 L227.86,64.74 L227.79,63.85 L226.23,64.88 L225.11,63.77 L224.74,62.88 L223.85,62.14 L223.26,61.48 L221.77,61.62 L219.62,61.62 L217.62,61.40 L216.43,61.18 L215.76,60.22 L214.57,60.59 L213.61,60.36 L212.12,59.62 L211.23,58.66 L210.19,57.92 L209.45,58.14 L209.90,59.33 L210.79,60.51 L211.60,61.48 L211.98,60.96 L212.20,62.29 L213.83,62.44 L215.09,61.48 L215.69,60.81 L215.69,61.92 L216.65,62.66 L218.06,63.63 L217.47,65.03 L216.80,66.22 L215.84,67.03 L214.87,67.33 L213.39,68.00 L212.64,68.74 L210.27,69.85 L207.67,70.59 L206.19,70.96 L205.67,68.81 L205.44,68.07 L204.48,66.59 L203.59,65.48 L202.92,64.37 L202.48,62.88 L201.51,61.62 L200.99,60.66 L200.03,59.55 L199.80,58.44 L199.36,59.70 L198.76,59.18 L198.10,58.14 L197.87,57.18 L199.28,57.10 L199.88,55.99 L200.25,55.18 L200.55,53.99 L200.77,53.18 L199.66,53.03 L198.24,53.55 L196.54,53.40 L195.42,53.18 L194.16,52.51 L193.49,51.69 L193.35,50.66 L191.71,50.06 L190.90,50.29 L191.34,51.03 L190.75,52.14 L191.12,53.25 L190.60,53.32 L190.01,53.03 L189.56,51.92 L188.74,51.03 L188.30,50.29 L188.37,49.32 L187.63,48.80 L185.78,48.06 L185.03,47.32 L184.07,46.73 L183.03,46.73 L183.10,47.54 L183.99,48.06 L184.66,49.03 L185.92,49.69 L187.63,50.58 L186.52,50.36 L186.15,51.40 L185.55,52.14 L185.48,51.47 L185.78,50.80 L184.88,50.36 L184.07,49.77 L182.96,49.32 L182.06,48.73 L181.62,48.06 L180.51,47.39 L179.47,47.84 L178.72,48.36 L177.39,48.14 L176.28,48.36 L176.28,49.25 L175.46,49.69 L174.49,50.06 L173.68,51.03 L174.05,51.54 L173.38,52.43 L172.34,53.10 L170.63,53.10 Z M197.87,57.10 L196.17,57.10 L195.42,57.40 L192.46,56.88 L190.97,56.14 L188.74,56.58 L188.00,57.84 L185.78,57.18 L185.18,56.36 L183.55,55.92 L182.06,55.70 L181.47,54.88 L182.06,54.21 L181.54,53.18 L182.06,52.80 L181.17,52.66 L179.84,52.95 L177.61,53.03 L176.13,53.03 L173.90,53.69 L172.42,54.29 L169.97,53.69 L169.45,53.77 L168.85,55.10 L167.59,55.62 L166.70,57.70 L166.33,58.59 L164.33,59.62 L163.14,60.96 L162.02,62.51 L161.28,64.37 L161.65,65.85 L161.80,67.70 L160.91,69.41 L161.50,70.37 L161.43,71.41 L162.77,72.15 L163.88,73.19 L164.62,74.74 L165.74,75.26 L167.22,76.59 L168.33,77.04 L170.19,76.52 L172.42,76.74 L173.90,76.15 L175.38,75.63 L177.24,75.63 L177.98,76.74 L178.72,77.11 L180.21,76.89 L180.95,77.48 L181.17,78.22 L180.95,79.56 L180.80,80.67 L180.43,81.19 L182.44,83.26 L182.96,84.67 L183.62,86.60 L183.92,88.45 L182.73,91.79 L182.66,93.27 L183.70,95.12 L184.66,96.97 L185.03,99.94 L186.15,101.50 L186.89,103.27 L187.56,105.50 L188.74,106.09 L190.60,105.50 L192.98,105.50 L194.31,104.76 L195.80,103.42 L196.91,102.16 L198.02,101.27 L198.10,99.57 L198.39,99.20 L200.25,98.09 L200.10,96.60 L199.66,94.97 L201.21,93.64 L203.22,92.53 L204.03,91.42 L203.96,88.82 L203.07,86.23 L203.07,85.12 L203.37,83.64 L204.33,81.78 L205.07,80.89 L206.19,79.56 L208.04,78.45 L209.53,76.59 L210.64,74.37 L211.75,72.52 L211.98,71.55 L210.27,71.93 L208.04,72.37 L206.56,72.52 L206.04,71.78 L205.59,71.04 L204.70,70.07 L203.44,68.96 L202.48,66.96 L201.58,66.22 L201.51,64.74 L201.14,63.63 L200.32,62.51 L199.51,61.18 L198.84,60.07 L198.10,58.14 Z M210.49,89.19 L211.38,91.79 L210.86,92.97 L210.12,95.49 L208.93,98.68 L207.45,99.20 L206.34,96.97 L206.85,94.97 L206.56,92.90 L208.19,92.01 L209.45,90.30 Z M258.14,96.60 L258.51,99.94 L259.26,102.90 L259.78,105.13 L259.26,105.72 L261.41,106.31 L262.97,105.42 L265.56,105.42 L267.42,104.24 L269.65,103.72 L271.28,103.65 L273.51,104.53 L274.62,106.09 L276.18,104.61 L275.96,106.61 L277.44,106.83 L278.18,108.46 L280.41,109.06 L282.49,109.28 L283.75,108.31 L285.23,107.94 L285.38,106.76 L286.20,105.35 L287.09,104.16 L287.68,101.79 L287.53,99.42 L285.83,97.05 L284.64,96.01 L282.49,94.38 L281.82,92.16 L281.74,91.27 L280.41,90.68 L279.67,88.23 L279.00,89.71 L278.92,91.79 L278.18,93.27 L277.07,92.90 L275.58,91.94 L274.47,91.27 L275.36,89.34 L274.10,89.34 L272.24,88.82 L271.13,89.34 L270.02,91.27 L268.90,91.27 L267.42,90.68 L266.68,91.42 L265.56,92.53 L264.60,93.64 L263.71,94.75 L261.85,95.34 L260.37,95.64 L258.66,96.46 Z M281.23,110.46 L283.97,110.61 L283.75,112.32 L282.86,112.61 L281.67,111.57 Z M302.08,105.79 L303.42,106.98 L304.46,108.02 L306.39,108.24 L305.27,109.57 L304.53,110.98 L303.79,111.06 L303.49,109.80 L302.90,109.35 L303.49,108.09 Z M302.08,110.31 L303.27,111.20 L302.30,112.54 L300.97,113.28 L299.71,114.84 L297.48,114.39 L298.59,112.91 L300.82,111.80 Z M244.56,76.15 L246.64,77.19 L248.49,78.82 L250.72,80.89 L252.58,82.52 L252.43,84.60 L251.46,84.67 L249.83,83.26 L248.49,81.41 L247.38,79.93 L246.27,78.45 Z M251.98,85.34 L254.06,84.89 L256.29,85.12 L258.88,86.08 L258.81,86.75 L256.29,86.38 L254.06,86.08 Z M254.80,79.19 L255.25,78.82 L256.29,79.04 L257.77,77.93 L259.63,76.37 L260.74,75.11 L262.37,76.30 L261.48,77.11 L261.85,79.56 L261.11,80.30 L260.37,82.15 L260.00,83.19 L258.88,83.26 L256.66,82.52 L255.54,81.78 L254.80,80.30 Z M262.60,84.38 L263.34,82.52 L262.60,80.67 L263.56,79.56 L266.53,79.19 L265.56,79.93 L263.71,79.93 L264.08,81.04 L265.19,81.04 L264.45,82.15 L264.82,83.86 L263.71,83.26 L263.34,84.45 Z M271.13,81.19 L273.36,80.89 L274.10,82.75 L275.96,81.41 L278.55,82.23 L281.15,83.12 L282.26,84.01 L283.38,84.75 L283.60,86.23 L285.23,87.93 L283.75,87.71 L282.26,86.60 L280.78,86.01 L280.04,86.97 L278.55,87.04 L277.07,86.30 L276.33,84.75 L275.96,84.01 L273.36,83.26 L271.87,82.15 Z M263.41,66.59 L264.60,66.59 L264.45,68.07 L264.15,69.18 L265.94,70.67 L265.19,70.67 L263.71,70.07 L263.41,69.18 L262.82,68.29 Z M264.45,75.11 L265.56,74.00 L267.05,73.04 L267.87,74.96 L267.05,76.00 L265.94,75.48 Z M264.45,71.78 L265.94,71.04 L267.05,72.15 L266.68,72.89 L265.19,73.41 L264.45,72.52 Z M263.71,61.55 L264.45,61.77 L263.71,64.00 L263.04,63.25 Z M254.51,66.07 L255.92,65.40 L256.29,65.77 L255.17,66.81 Z M233.13,73.11 L234.61,74.74 L234.17,75.71 L233.35,75.85 L233.06,74.37 Z M271.06,55.10 L272.24,54.06 L274.47,53.92 L275.44,52.73 L276.77,52.14 L277.81,51.03 L277.81,49.69 L278.92,49.77 L279.30,51.03 L278.55,52.14 L278.40,53.62 L277.66,54.36 L276.92,54.58 L275.58,54.73 L274.10,55.47 L272.24,54.95 Z M277.81,49.54 L278.55,48.28 L279.15,46.65 L280.26,47.54 L281.89,48.21 L280.41,49.17 L278.55,49.32 Z M270.17,55.40 L271.80,55.18 L271.50,57.10 L270.54,57.18 Z M272.24,55.84 L273.88,54.95 L273.51,55.70 L272.62,56.07 Z M279.30,46.21 L280.41,45.84 L280.04,43.62 L280.78,42.50 L280.04,40.28 L279.44,40.06 L279.30,42.50 L279.15,44.73 Z M169.67,43.24 L171.67,42.80 L174.94,42.36 L175.16,41.24 L174.12,40.80 L173.75,40.21 L172.79,39.39 L172.34,38.80 L172.42,37.54 L171.52,36.87 L170.19,36.87 L169.30,37.69 L169.74,38.58 L169.45,39.32 L170.26,39.84 L171.67,40.28 L171.52,40.80 L170.49,40.80 L170.78,41.61 L169.97,41.91 L171.52,42.21 Z M169.45,41.76 L169.45,40.28 L168.48,39.24 L167.59,39.91 L166.48,40.13 L166.48,41.76 L166.63,42.13 L167.96,42.06 Z M110.81,64.07 L113.04,63.11 L114.52,63.18 L116.38,64.14 L117.86,64.74 L118.83,65.33 L116.38,65.55 L115.64,64.37 L113.78,64.00 L111.55,64.14 Z M118.60,66.59 L119.87,65.55 L121.94,65.70 L123.13,66.52 L121.94,66.81 L120.46,66.96 Z M40.30,29.16 L43.27,30.27 L46.61,30.72 L47.94,31.39 L46.98,31.76 L45.50,32.50 L43.27,32.13 L41.41,31.76 L40.30,32.13 Z M306.39,27.53 L307.50,27.31 L307.50,27.76 Z M58.19,65.33 L58.86,65.70 L58.71,66.22 L58.19,66.14 Z M57.15,64.59 L58.11,64.74 L57.82,65.03 L57.15,64.81 Z M50.69,40.35 L51.80,39.91 L50.32,40.28 L48.84,40.80 L47.72,41.17 L49.21,40.95 Z M128.40,118.32 L131.00,118.32 L130.48,119.06 L128.62,118.84 Z M145.70,120.32 L147.18,120.47 L146.81,120.76 Z M225.11,116.47 L226.23,116.61 L225.86,117.13 L225.11,116.98 Z M295.62,95.27 L296.37,95.49 L297.85,96.83 L297.48,96.90 L295.85,95.64 Z M305.50,93.20 L306.46,93.27 L306.39,93.79 L305.50,93.64 Z M290.06,85.27 L291.91,86.23 L293.03,87.41 L292.43,87.56 L290.43,86.23 Z M283.97,84.38 L285.23,84.23 L286.35,83.49 L286.94,83.49 L286.57,84.38 L285.23,84.89 L284.12,84.75 Z M265.56,87.93 L266.68,86.97 L268.38,86.53 L266.68,87.49 Z M259.85,86.45 L262.22,86.45 L265.19,86.45 L265.04,86.82 L261.48,86.90 L260.00,86.90 Z M268.53,78.97 L269.35,79.41 L268.90,80.30 L269.42,80.89 L268.61,80.67 Z M268.90,82.52 L270.98,82.75 L270.61,83.19 L269.13,82.97 Z M114.52,25.68 L120.46,26.94 L123.43,28.05 L124.91,29.53 L127.88,30.79 L126.40,32.13 L125.66,33.61 L123.43,33.98 L120.46,32.87 L118.98,32.50 L116.38,32.50 L116.01,31.76 L119.35,30.27 L118.23,29.53 L116.01,28.79 L113.04,28.57 L110.81,28.05 L108.21,28.05 L107.10,27.31 L110.07,25.61 Z M85.58,27.24 L86.47,26.35 L88.92,25.98 L91.88,26.50 L94.48,25.90 L96.12,26.35 L97.82,27.31 L98.56,28.42 L96.34,29.09 L93.74,29.24 L90.03,29.53 L87.80,29.02 L86.69,28.27 L88.54,27.90 L86.32,27.68 Z M80.53,27.01 L81.49,25.83 L81.86,25.24 L84.09,25.09 L86.69,25.31 L88.17,25.83 L86.47,26.57 L84.46,27.31 L82.61,27.61 Z M83.35,23.61 L86.32,23.01 L88.17,23.75 L85.58,24.12 Z M87.43,24.35 L89.29,23.53 L92.26,23.53 L95.22,24.12 L95.60,24.57 L93.00,24.86 L90.03,25.09 L87.06,24.86 Z M98.94,24.57 L101.16,23.61 L101.90,24.72 L100.42,24.79 Z M102.65,24.57 L104.87,24.57 L104.87,25.01 L102.65,25.01 Z M98.56,25.83 L101.16,25.46 L102.28,26.05 L101.90,26.94 L101.16,27.31 L98.94,26.79 Z M106.73,23.61 L107.84,22.86 L109.33,22.12 L111.55,21.53 L110.07,20.86 L107.10,20.27 L110.81,19.31 L116.75,18.86 L123.43,18.94 L127.88,19.31 L124.91,20.12 L121.94,20.79 L119.72,21.46 L117.49,22.05 L118.23,22.49 L116.01,23.23 L114.52,23.75 L110.81,23.83 Z M105.24,24.35 L108.58,23.53 L113.78,23.53 L114.52,24.35 L113.78,25.01 L108.58,25.09 L105.62,24.94 Z M103.02,25.46 L106.36,25.46 L106.73,26.20 L104.87,26.94 L103.39,26.57 Z M102.65,22.35 L104.13,21.16 L106.36,20.49 L108.58,20.86 L108.21,21.68 L106.36,22.35 Z M100.42,28.57 L102.65,28.57 L103.02,29.31 L101.53,29.53 L100.42,29.16 Z M113.78,25.83 L116.75,25.68 L117.12,26.35 L114.52,26.42 Z M95.22,22.12 L97.45,21.53 L99.68,21.90 L97.45,22.49 Z M110.07,31.76 L113.78,32.13 L114.52,33.02 L111.55,33.24 L109.33,32.50 Z M182.06,22.12 L185.78,21.01 L190.23,20.64 L193.94,20.86 L190.23,22.49 L187.26,23.61 L184.29,22.86 Z M212.50,27.31 L215.46,25.83 L218.43,23.83 L224.37,23.31 L222.89,23.98 L216.95,25.16 L215.46,27.68 L213.24,27.90 Z M244.41,21.75 L248.12,20.27 L251.83,21.38 L248.12,22.12 Z M275.58,24.35 L277.81,23.61 L284.49,24.35 L280.04,25.09 Z M156.09,31.76 L157.57,31.09 L162.02,31.02 L163.88,31.98 L162.77,32.65 L160.17,33.31 L157.20,33.02 Z M209.53,20.86 L214.72,20.12 L219.92,20.42 L216.95,21.01 Z M119.72,22.27 L123.43,23.98 L130.85,24.20 L133.08,26.94 L134.56,28.20 L136.05,29.16 L134.19,31.39 L136.79,33.98 L138.27,35.09 L141.24,35.83 L141.98,35.46 L144.21,32.50 L145.70,31.76 L150.15,29.68 L155.34,28.42 L157.57,27.68 L157.57,26.20 L159.80,25.09 L159.80,23.23 L159.80,21.38 L164.99,19.90 L159.06,19.38 L151.63,18.42 L144.21,18.34 L133.08,19.16 L129.37,19.53 L124.91,20.42 L121.94,21.38 Z M208.78,47.32 L210.27,45.84 L212.12,45.47 L213.24,45.84 L213.24,46.95 L211.75,47.32 L211.38,47.69 L212.12,48.80 L213.24,49.17 L213.09,50.66 L213.83,52.51 L212.12,53.03 L210.27,52.51 L210.64,50.51 L209.38,49.17 Z M194.68,49.69 L195.57,49.77 L197.28,49.77 L199.88,49.17 L202.10,49.91 L204.70,49.54 L204.70,48.65 L203.22,47.69 L201.73,47.10 L200.99,46.73 L199.88,46.95 L198.76,47.32 L198.39,46.73 L196.91,45.84 L196.17,46.51 L195.87,46.95 L195.05,48.06 Z" fill="none" stroke="#262626" stroke-width="0.55" stroke-linejoin="round"/>
<path d="M197.50,81.04 L198.39,80.08 L199.14,80.15 L199.73,80.52 L199.14,81.41 L198.76,82.15 L197.65,82.00 L197.35,81.41 Z M195.50,82.75 L195.80,82.89 L196.17,84.38 L196.76,85.49 L196.91,86.60 L196.61,86.75 L196.02,85.86 L195.65,84.75 L195.50,83.64 Z M199.14,87.34 L199.51,88.08 L199.73,89.56 L200.10,90.90 L199.73,90.97 L199.36,89.93 L199.28,88.82 L199.06,87.71 Z M105.62,45.69 L107.84,44.50 L109.70,44.21 L110.96,45.10 L111.18,45.84 L109.33,45.84 L107.10,45.76 Z M108.73,49.17 L108.96,47.69 L109.33,46.58 L110.81,46.21 L110.44,46.95 L109.85,48.06 L109.85,49.17 Z M111.18,46.36 L112.67,46.28 L114.15,46.73 L113.41,47.32 L112.74,48.36 L111.92,47.69 L111.55,46.80 Z M111.92,49.40 L113.78,49.03 L115.26,48.58 L114.52,48.80 L112.67,49.54 Z M114.67,48.21 L116.75,47.84 L117.34,47.62 L117.12,48.21 L115.64,48.21 Z M250.94,42.06 L252.20,41.54 L253.32,41.02 L254.43,40.28 L255.40,39.02 L255.02,38.95 L254.06,39.91 L252.80,40.87 L251.46,41.76 Z M217.10,45.84 L218.43,45.99 L219.55,46.95 L218.80,47.69 L217.69,47.54 L217.17,46.95 Z M100.79,35.09 L103.39,35.83 L104.50,35.09 Z M81.86,31.02 L86.32,31.02 L87.06,32.13 L84.09,32.50 L82.24,31.98 Z M86.69,35.09 L90.77,34.20 L93.00,33.83 L91.51,34.94 L88.17,35.24 Z M100.05,41.02 L101.90,40.65 L101.53,42.50 L100.42,42.87 Z" fill="none" stroke="#262626" stroke-width="0.4" stroke-opacity="0.45" stroke-linejoin="round"/>
<path d="M40.30,138.11 L47.72,138.33 L55.14,138.85 L58.86,138.48 L62.57,137.37 L66.28,136.25 L69.99,135.88 L77.41,135.36 L84.83,134.99 L92.26,135.36 L99.68,134.77 L107.10,134.25 L114.52,134.55 L118.23,133.29 L121.94,131.44 L124.91,129.58 L127.14,128.10 L130.85,127.14 L131.59,127.73 L129.37,128.84 L127.88,129.95 L127.88,132.18 L128.62,134.40 L129.37,135.88 L133.08,137.74 L140.50,138.33 L147.92,137.96 L151.63,136.62 L155.34,135.14 L160.54,134.03 L164.99,133.14 L170.19,132.77 L173.90,132.55 L181.32,132.18 L188.74,132.18 L196.17,131.96 L199.88,131.44 L203.59,131.29 L207.30,130.33 L211.01,129.81 L214.72,129.58 L218.43,130.18 L222.14,130.55 L225.86,131.44 L227.34,132.55 L229.57,131.81 L233.28,130.33 L236.99,129.73 L240.70,129.58 L248.12,129.21 L255.54,129.36 L259.26,129.95 L262.97,129.58 L270.39,129.36 L277.81,129.81 L285.23,131.07 L292.66,132.18 L296.37,132.77 L298.59,134.03 L300.08,135.14 L296.37,137.37 L300.08,138.11 L307.50,138.11" fill="none" stroke="#262626" stroke-width="0.55"/>
</g>
<rect x="40.3" y="13.6" width="267.20" height="133.40" fill="none" stroke="#a8a8a8" stroke-width="0.9"/>
<rect x="43" y="107" width="87.5" height="35.3" rx="1.5" fill="#ffffff" fill-opacity="0.8" stroke="#cccccc" stroke-width="0.5"/>
<text transform="translate(86.6,113.9) scale(1,1.15)" font-family='"Liberation Serif", serif' font-size="6.3" text-anchor="middle" fill="#2a2a2a" stroke="#2a2a2a" stroke-width="0.06">Dominant Effects</text>
<path d="M45.5,120.2 H58.5" stroke="#ffffff" stroke-width="0.9" opacity="0.7"/>
<circle cx="52" cy="120.2" r="2.9" fill="#ff2a1a"/>
<text transform="translate(63.3,122.5) scale(1,1.15)" font-family='"Liberation Serif", serif' font-size="6.2" fill="#2a2a2a" stroke="#2a2a2a" stroke-width="0.06">Thermal Effect</text>
<path d="M45.5,129.2 H58.5" stroke="#ffffff" stroke-width="0.9" opacity="0.7"/>
<circle cx="52" cy="129.2" r="2.9" fill="#80ffff"/>
<text transform="translate(63.3,131.5) scale(1,1.15)" font-family='"Liberation Serif", serif' font-size="6.2" fill="#2a2a2a" stroke="#2a2a2a" stroke-width="0.06">Moisture Transport Effect</text>
<path d="M45.5,138.2 H58.5" stroke="#ffffff" stroke-width="0.9" opacity="0.7"/>
<circle cx="52" cy="138.2" r="2.9" fill="#0a0aff"/>
<text transform="translate(63.3,140.5) scale(1,1.15)" font-family='"Liberation Serif", serif' font-size="6.2" fill="#2a2a2a" stroke="#2a2a2a" stroke-width="0.06">Dynamical Effect</text>
<text transform="translate(37.9,39.1) scale(1,1.08)" font-family='"Liberation Serif", serif' font-size="12.6" text-anchor="end" font-weight="normal" fill="#000" stroke="#000" stroke-width="0.12">60°N</text>
<text transform="translate(37.9,61.4) scale(1,1.08)" font-family='"Liberation Serif", serif' font-size="12.6" text-anchor="end" font-weight="normal" fill="#000" stroke="#000" stroke-width="0.12">30°N</text>
<text transform="translate(37.9,83.6) scale(1,1.08)" font-family='"Liberation Serif", serif' font-size="12.6" text-anchor="end" font-weight="normal" fill="#000" stroke="#000" stroke-width="0.12">0°</text>
<text transform="translate(37.9,105.8) scale(1,1.08)" font-family='"Liberation Serif", serif' font-size="12.6" text-anchor="end" font-weight="normal" fill="#000" stroke="#000" stroke-width="0.12">30°S</text>
<text transform="translate(37.9,128.1) scale(1,1.08)" font-family='"Liberation Serif", serif' font-size="12.6" text-anchor="end" font-weight="normal" fill="#000" stroke="#000" stroke-width="0.12">60°S</text>
<text transform="translate(40.3,158.0) scale(1,1.08)" font-family='"Liberation Serif", serif' font-size="12.4" text-anchor="middle" font-weight="normal" fill="#000" stroke="#000" stroke-width="0.12">180°</text>
<text transform="translate(84.8,158.0) scale(1,1.08)" font-family='"Liberation Serif", serif' font-size="12.4" text-anchor="middle" font-weight="normal" fill="#000" stroke="#000" stroke-width="0.12">120°W</text>
<text transform="translate(129.4,158.0) scale(1,1.08)" font-family='"Liberation Serif", serif' font-size="12.4" text-anchor="middle" font-weight="normal" fill="#000" stroke="#000" stroke-width="0.12">60°W</text>
<text transform="translate(173.9,158.0) scale(1,1.08)" font-family='"Liberation Serif", serif' font-size="12.4" text-anchor="middle" font-weight="normal" fill="#000" stroke="#000" stroke-width="0.12">0°</text>
<text transform="translate(218.4,158.0) scale(1,1.08)" font-family='"Liberation Serif", serif' font-size="12.4" text-anchor="middle" font-weight="normal" fill="#000" stroke="#000" stroke-width="0.12">60°E</text>
<text transform="translate(263.0,158.0) scale(1,1.08)" font-family='"Liberation Serif", serif' font-size="12.4" text-anchor="middle" font-weight="normal" fill="#000" stroke="#000" stroke-width="0.12">120°E</text>
<text transform="translate(307.5,158.0) scale(1,1.08)" font-family='"Liberation Serif", serif' font-size="12.4" text-anchor="middle" font-weight="normal" fill="#000" stroke="#000" stroke-width="0.12">180°</text>
<text x="173.8" y="170.2" font-family='"Liberation Serif", serif' font-size="14.1" text-anchor="middle" font-weight="normal" fill="#000" stroke="#000" stroke-width="0.12" >Longitude</text>
<text x="0" y="0" font-family='"Liberation Serif", serif' font-size="14" text-anchor="middle" font-weight="normal" fill="#000" stroke="#000" stroke-width="0.12" transform="translate(11.2,80.9) rotate(-90)">Latitude</text>
<text x="23.45" y="10.6" font-family='"Liberation Serif", serif' font-size="14.6" text-anchor="middle" font-weight="bold" fill="#000" stroke="#000" stroke-width="0.08" >I</text>
<g>
<path d="M332.70,13.6 V147.0 M356.05,13.6 V147.0 M379.40,13.6 V147.0 M330.5,35.83 H381.3 M330.5,58.07 H381.3 M330.5,80.30 H381.3 M330.5,102.53 H381.3 M330.5,124.77 H381.3" stroke="#e3e3e3" stroke-width="0.8" fill="none"/>
<polyline points="344.38,43.24 339.80,54.36 332.70,65.48 350.21,76.59 348.39,87.71 341.11,98.83 332.98,109.94" fill="none" stroke="#ff1a1a" stroke-width="1.1"/>
<circle cx="344.38" cy="43.24" r="1.6" fill="#ff1a1a"/>
<circle cx="339.80" cy="54.36" r="1.6" fill="#ff1a1a"/>
<circle cx="332.70" cy="65.48" r="1.6" fill="#ff1a1a"/>
<circle cx="350.21" cy="76.59" r="1.6" fill="#ff1a1a"/>
<circle cx="348.39" cy="87.71" r="1.6" fill="#ff1a1a"/>
<circle cx="341.11" cy="98.83" r="1.6" fill="#ff1a1a"/>
<circle cx="332.98" cy="109.94" r="1.6" fill="#ff1a1a"/>
<polyline points="355.91,43.24 354.09,54.36 332.70,65.48 361.61,76.59 359.60,87.71 370.53,98.83 348.11,109.94" fill="none" stroke="#6ff6f6" stroke-width="1.1"/>
<circle cx="355.91" cy="43.24" r="1.6" fill="#6ff6f6"/>
<circle cx="354.09" cy="54.36" r="1.6" fill="#6ff6f6"/>
<circle cx="332.70" cy="65.48" r="1.6" fill="#6ff6f6"/>
<circle cx="361.61" cy="76.59" r="1.6" fill="#6ff6f6"/>
<circle cx="359.60" cy="87.71" r="1.6" fill="#6ff6f6"/>
<circle cx="370.53" cy="98.83" r="1.6" fill="#6ff6f6"/>
<circle cx="348.11" cy="109.94" r="1.6" fill="#6ff6f6"/>
<polyline points="344.38,43.24 350.68,54.36 378.79,65.48 332.98,76.59 337.18,87.71 332.89,98.83 363.80,109.94" fill="none" stroke="#1a1ae6" stroke-width="1.1"/>
<circle cx="344.38" cy="43.24" r="1.6" fill="#1a1ae6"/>
<circle cx="350.68" cy="54.36" r="1.6" fill="#1a1ae6"/>
<circle cx="378.79" cy="65.48" r="1.6" fill="#1a1ae6"/>
<circle cx="332.98" cy="76.59" r="1.6" fill="#1a1ae6"/>
<circle cx="337.18" cy="87.71" r="1.6" fill="#1a1ae6"/>
<circle cx="332.89" cy="98.83" r="1.6" fill="#1a1ae6"/>
<circle cx="363.80" cy="109.94" r="1.6" fill="#1a1ae6"/>
<rect x="330.5" y="13.6" width="50.80" height="133.40" fill="none" stroke="#8c8c8c" stroke-width="0.9"/>
<path d="M332.70,147.0 v2.5 M356.05,147.0 v2.5 M379.40,147.0 v2.5 M381.3,35.83 h2.5 M381.3,58.07 h2.5 M381.3,80.30 h2.5 M381.3,102.53 h2.5 M381.3,124.77 h2.5" stroke="#444" stroke-width="0.6"/>
</g>
<text transform="translate(332.7,158.6) scale(1,1.07)" font-family='"Liberation Serif", serif' font-size="12.4" text-anchor="middle" font-weight="normal" fill="#000" stroke="#000" stroke-width="0.12">0</text>
<text transform="translate(356.1,158.6) scale(1,1.07)" font-family='"Liberation Serif", serif' font-size="12.4" text-anchor="middle" font-weight="normal" fill="#000" stroke="#000" stroke-width="0.12">50</text>
<text transform="translate(379.4,158.6) scale(1,1.07)" font-family='"Liberation Serif", serif' font-size="12.4" text-anchor="middle" font-weight="normal" fill="#000" stroke="#000" stroke-width="0.12">100</text>
<text transform="translate(384.0,39.1) scale(1,1.08)" font-family='"Liberation Serif", serif' font-size="12.6" text-anchor="start" font-weight="normal" fill="#000" stroke="#000" stroke-width="0.12">60°N</text>
<text transform="translate(384.0,61.4) scale(1,1.08)" font-family='"Liberation Serif", serif' font-size="12.6" text-anchor="start" font-weight="normal" fill="#000" stroke="#000" stroke-width="0.12">30°N</text>
<text transform="translate(384.0,83.6) scale(1,1.08)" font-family='"Liberation Serif", serif' font-size="12.6" text-anchor="start" font-weight="normal" fill="#000" stroke="#000" stroke-width="0.12">0°</text>
<text transform="translate(384.0,105.8) scale(1,1.08)" font-family='"Liberation Serif", serif' font-size="12.6" text-anchor="start" font-weight="normal" fill="#000" stroke="#000" stroke-width="0.12">30°S</text>
<text transform="translate(384.0,128.1) scale(1,1.08)" font-family='"Liberation Serif", serif' font-size="12.6" text-anchor="start" font-weight="normal" fill="#000" stroke="#000" stroke-width="0.12">60°S</text>
<text x="355.9" y="172.7" font-family='"Liberation Serif", serif' font-size="14.2" text-anchor="middle" font-weight="normal" fill="#000" stroke="#000" stroke-width="0.12" >PCT (%)</text>
<text x="0" y="0" font-family='"Liberation Serif", serif' font-size="14.1" text-anchor="middle" font-weight="normal" fill="#000" stroke="#000" stroke-width="0.12" transform="translate(324.9,80.6) rotate(-90)">Latitude</text>
<rect x="436.6" y="16.9" width="235.94" height="36.60" fill="#4e1f6e" stroke="#2a2a2a" stroke-width="0.6" stroke-opacity="0.75"/>
<rect x="436.6" y="62.5" width="93.09" height="36.10" fill="#a0467e" stroke="#2a2a2a" stroke-width="0.6" stroke-opacity="0.75"/>
<rect x="436.6" y="108.3" width="62.45" height="36.10" fill="#e08e72" stroke="#2a2a2a" stroke-width="0.6" stroke-opacity="0.75"/>
<path d="M475.63,12.2 V149.4 M514.66,12.2 V149.4 M553.69,12.2 V149.4 M592.72,12.2 V149.4 M631.75,12.2 V149.4 M670.78,12.2 V149.4" stroke="#d0d0d0" stroke-width="0.6" stroke-dasharray="2,1.2" fill="none" opacity="0.45"/>
<text x="554.6" y="38.9" font-family='"Liberation Serif", serif' font-size="14.5" text-anchor="middle" font-weight="bold" fill="#fff" stroke="#fff" stroke-width="0.08" >0.60</text>
<text x="0" y="0" font-family='"Liberation Serif", serif' font-size="11" text-anchor="middle" font-weight="normal" fill="#000" stroke="#000" stroke-width="0.12" transform="translate(434.3,35.2) rotate(-90)">Elevation</text>
<text x="483.1" y="84.2" font-family='"Liberation Serif", serif' font-size="14.5" text-anchor="middle" font-weight="bold" fill="#fff" stroke="#fff" stroke-width="0.08" >0.24</text>
<text x="0" y="0" font-family='"Liberation Serif", serif' font-size="11" text-anchor="middle" font-weight="normal" fill="#000" stroke="#000" stroke-width="0.12" transform="translate(434.3,80.5) rotate(-90)">Latitude</text>
<text x="467.8" y="130.0" font-family='"Liberation Serif", serif' font-size="14.5" text-anchor="middle" font-weight="bold" fill="#fff" stroke="#fff" stroke-width="0.08" >0.16</text>
<text x="0" y="0" font-family='"Liberation Serif", serif' font-size="11" text-anchor="middle" font-weight="normal" fill="#000" stroke="#000" stroke-width="0.12" transform="translate(434.3,126.3) rotate(-90)">Lake Area</text>
<path d="M436.6,12.2 V149.4 H683.8" stroke="#9a9a9a" stroke-width="0.9" fill="none"/>
<path d="M436.60,149.4 v2 M475.63,149.4 v2 M514.66,149.4 v2 M553.69,149.4 v2 M592.72,149.4 v2 M631.75,149.4 v2 M670.78,149.4 v2 M436.6,35.2 h-2 M436.6,80.5 h-2 M436.6,126.3 h-2" stroke="#555" stroke-width="0.6"/>
<text transform="translate(436.6,159.6) scale(1,1.03)" font-family='"Liberation Serif", serif' font-size="11.7" text-anchor="middle" font-weight="normal" fill="#000" stroke="#000" stroke-width="0.12">0.0</text>
<text transform="translate(475.6,159.6) scale(1,1.03)" font-family='"Liberation Serif", serif' font-size="11.7" text-anchor="middle" font-weight="normal" fill="#000" stroke="#000" stroke-width="0.12">0.1</text>
<text transform="translate(514.7,159.6) scale(1,1.03)" font-family='"Liberation Serif", serif' font-size="11.7" text-anchor="middle" font-weight="normal" fill="#000" stroke="#000" stroke-width="0.12">0.2</text>
<text transform="translate(553.7,159.6) scale(1,1.03)" font-family='"Liberation Serif", serif' font-size="11.7" text-anchor="middle" font-weight="normal" fill="#000" stroke="#000" stroke-width="0.12">0.3</text>
<text transform="translate(592.7,159.6) scale(1,1.03)" font-family='"Liberation Serif", serif' font-size="11.7" text-anchor="middle" font-weight="normal" fill="#000" stroke="#000" stroke-width="0.12">0.4</text>
<text transform="translate(631.8,159.6) scale(1,1.03)" font-family='"Liberation Serif", serif' font-size="11.7" text-anchor="middle" font-weight="normal" fill="#000" stroke="#000" stroke-width="0.12">0.5</text>
<text transform="translate(670.8,159.6) scale(1,1.03)" font-family='"Liberation Serif", serif' font-size="11.7" text-anchor="middle" font-weight="normal" fill="#000" stroke="#000" stroke-width="0.12">0.6</text>
<text x="560.2" y="172.6" font-family='"Liberation Serif", serif' font-size="13.8" text-anchor="middle" font-weight="normal" fill="#000" stroke="#000" stroke-width="0.12" >Importance Score</text>
<text x="449.45" y="10.7" font-family='"Liberation Serif", serif' font-size="14.6" text-anchor="middle" font-weight="bold" fill="#000" stroke="#000" stroke-width="0.08" >II</text>
<rect x="62.67" y="322.62" width="34.35" height="59.78" fill="#fd2210"/>
<rect x="62.67" y="261.47" width="34.35" height="61.15" fill="#80ffff"/>
<rect x="62.67" y="211.60" width="34.35" height="49.87" fill="#1a00ff"/>
<rect x="131.38" y="326.72" width="34.35" height="55.68" fill="#fd2210"/>
<rect x="131.38" y="258.74" width="34.35" height="67.98" fill="#80ffff"/>
<rect x="131.38" y="211.60" width="34.35" height="47.14" fill="#1a00ff"/>
<rect x="200.07" y="326.38" width="34.35" height="56.02" fill="#fd2210"/>
<rect x="200.07" y="259.08" width="34.35" height="67.30" fill="#80ffff"/>
<rect x="200.07" y="211.60" width="34.35" height="47.48" fill="#1a00ff"/>
<path d="M45.5,348.24 H251.60 M45.5,314.08 H251.60 M45.5,279.92 H251.60 M45.5,245.76 H251.60" stroke="#c8c8c8" stroke-width="0.6" stroke-dasharray="1.6,1.2" fill="none"/>
<rect x="45.5" y="211.6" width="206.1" height="170.80" fill="none" stroke="#000" stroke-opacity="0.5" stroke-width="0.9"/>
<path d="M79.85,382.4 v2.5 M148.55,382.4 v2.5 M217.25,382.4 v2.5 M45.5,382.40 h-2.5 M45.5,348.24 h-2.5 M45.5,314.08 h-2.5 M45.5,279.92 h-2.5 M45.5,245.76 h-2.5 M45.5,211.60 h-2.5" stroke="#555" stroke-width="0.6"/>
<text x="79.8" y="357.3" font-family='"Liberation Serif", serif' font-size="18.2" text-anchor="middle" font-weight="bold" fill="#000" stroke="#000" stroke-width="0.08" >0.35</text>
<text x="79.8" y="296.8" font-family='"Liberation Serif", serif' font-size="18.2" text-anchor="middle" font-weight="bold" fill="#000" stroke="#000" stroke-width="0.08" >0.36</text>
<text x="79.8" y="241.3" font-family='"Liberation Serif", serif' font-size="18.2" text-anchor="middle" font-weight="bold" fill="#fff" stroke="#fff" stroke-width="0.08" >0.29</text>
<text transform="translate(79.8,398.6) scale(1,1.07)" font-family='"Liberation Serif", serif' font-size="17" text-anchor="middle" font-weight="normal" fill="#000" stroke="#000" stroke-width="0.12">Small</text>
<text x="148.6" y="359.3" font-family='"Liberation Serif", serif' font-size="18.2" text-anchor="middle" font-weight="bold" fill="#000" stroke="#000" stroke-width="0.08" >0.33</text>
<text x="148.6" y="297.5" font-family='"Liberation Serif", serif' font-size="18.2" text-anchor="middle" font-weight="bold" fill="#000" stroke="#000" stroke-width="0.08" >0.40</text>
<text x="148.6" y="239.9" font-family='"Liberation Serif", serif' font-size="18.2" text-anchor="middle" font-weight="bold" fill="#fff" stroke="#fff" stroke-width="0.08" >0.28</text>
<text transform="translate(148.6,398.6) scale(1,1.07)" font-family='"Liberation Serif", serif' font-size="17" text-anchor="middle" font-weight="normal" fill="#000" stroke="#000" stroke-width="0.12">Medium</text>
<text x="217.2" y="359.1" font-family='"Liberation Serif", serif' font-size="18.2" text-anchor="middle" font-weight="bold" fill="#000" stroke="#000" stroke-width="0.08" >0.33</text>
<text x="217.2" y="297.5" font-family='"Liberation Serif", serif' font-size="18.2" text-anchor="middle" font-weight="bold" fill="#000" stroke="#000" stroke-width="0.08" >0.39</text>
<text x="217.2" y="240.1" font-family='"Liberation Serif", serif' font-size="18.2" text-anchor="middle" font-weight="bold" fill="#fff" stroke="#fff" stroke-width="0.08" >0.28</text>
<text transform="translate(217.2,398.6) scale(1,1.07)" font-family='"Liberation Serif", serif' font-size="17" text-anchor="middle" font-weight="normal" fill="#000" stroke="#000" stroke-width="0.12">Large</text>
<text x="148.6" y="207.8" font-family='"Liberation Serif", serif' font-size="18.1" text-anchor="middle" font-weight="normal" fill="#000" stroke="#000" stroke-width="0.12" >Lake Area</text>
<rect x="276.57" y="323.47" width="34.35" height="58.93" fill="#fd2210"/>
<rect x="276.57" y="257.89" width="34.35" height="65.59" fill="#80ffff"/>
<rect x="276.57" y="211.60" width="34.35" height="46.29" fill="#1a00ff"/>
<rect x="345.27" y="322.62" width="34.35" height="59.78" fill="#fd2210"/>
<rect x="345.27" y="246.78" width="34.35" height="75.84" fill="#80ffff"/>
<rect x="345.27" y="211.60" width="34.35" height="35.18" fill="#1a00ff"/>
<rect x="413.97" y="338.68" width="34.35" height="43.72" fill="#fd2210"/>
<rect x="413.97" y="284.02" width="34.35" height="54.66" fill="#80ffff"/>
<rect x="413.97" y="211.60" width="34.35" height="72.42" fill="#1a00ff"/>
<path d="M259.4,348.24 H465.50 M259.4,314.08 H465.50 M259.4,279.92 H465.50 M259.4,245.76 H465.50" stroke="#c8c8c8" stroke-width="0.6" stroke-dasharray="1.6,1.2" fill="none"/>
<rect x="259.4" y="211.6" width="206.1" height="170.80" fill="none" stroke="#000" stroke-opacity="0.5" stroke-width="0.9"/>
<path d="M293.75,382.4 v2.5 M362.45,382.4 v2.5 M431.15,382.4 v2.5 M259.4,382.40 h-2.5 M259.4,348.24 h-2.5 M259.4,314.08 h-2.5 M259.4,279.92 h-2.5 M259.4,245.76 h-2.5 M259.4,211.60 h-2.5" stroke="#555" stroke-width="0.6"/>
<text x="293.8" y="357.7" font-family='"Liberation Serif", serif' font-size="18.2" text-anchor="middle" font-weight="bold" fill="#000" stroke="#000" stroke-width="0.08" >0.34</text>
<text x="293.8" y="295.4" font-family='"Liberation Serif", serif' font-size="18.2" text-anchor="middle" font-weight="bold" fill="#000" stroke="#000" stroke-width="0.08" >0.38</text>
<text x="293.8" y="239.5" font-family='"Liberation Serif", serif' font-size="18.2" text-anchor="middle" font-weight="bold" fill="#fff" stroke="#fff" stroke-width="0.08" >0.27</text>
<text transform="translate(293.8,398.6) scale(1,1.07)" font-family='"Liberation Serif", serif' font-size="17" text-anchor="middle" font-weight="normal" fill="#000" stroke="#000" stroke-width="0.12">Low</text>
<text x="362.4" y="357.3" font-family='"Liberation Serif", serif' font-size="18.2" text-anchor="middle" font-weight="bold" fill="#000" stroke="#000" stroke-width="0.08" >0.35</text>
<text x="362.4" y="289.5" font-family='"Liberation Serif", serif' font-size="18.2" text-anchor="middle" font-weight="bold" fill="#000" stroke="#000" stroke-width="0.08" >0.44</text>
<text x="362.4" y="233.9" font-family='"Liberation Serif", serif' font-size="18.2" text-anchor="middle" font-weight="bold" fill="#fff" stroke="#fff" stroke-width="0.08" >0.21</text>
<text transform="translate(362.4,398.6) scale(1,1.07)" font-family='"Liberation Serif", serif' font-size="17" text-anchor="middle" font-weight="normal" fill="#000" stroke="#000" stroke-width="0.12">Medium</text>
<text x="431.1" y="365.3" font-family='"Liberation Serif", serif' font-size="18.2" text-anchor="middle" font-weight="bold" fill="#000" stroke="#000" stroke-width="0.08" >0.26</text>
<text x="431.1" y="316.1" font-family='"Liberation Serif", serif' font-size="18.2" text-anchor="middle" font-weight="bold" fill="#000" stroke="#000" stroke-width="0.08" >0.32</text>
<text x="431.1" y="252.6" font-family='"Liberation Serif", serif' font-size="18.2" text-anchor="middle" font-weight="bold" fill="#fff" stroke="#fff" stroke-width="0.08" >0.42</text>
<text transform="translate(431.1,398.6) scale(1,1.07)" font-family='"Liberation Serif", serif' font-size="17" text-anchor="middle" font-weight="normal" fill="#000" stroke="#000" stroke-width="0.12">High</text>
<text x="362.4" y="207.8" font-family='"Liberation Serif", serif' font-size="18.1" text-anchor="middle" font-weight="normal" fill="#000" stroke="#000" stroke-width="0.12" >Elevation</text>
<rect x="490.38" y="326.38" width="34.35" height="56.02" fill="#fd2210"/>
<rect x="490.38" y="254.98" width="34.35" height="71.39" fill="#80ffff"/>
<rect x="490.38" y="211.60" width="34.35" height="43.38" fill="#1a00ff"/>
<rect x="559.08" y="317.15" width="34.35" height="65.25" fill="#fd2210"/>
<rect x="559.08" y="246.27" width="34.35" height="70.88" fill="#80ffff"/>
<rect x="559.08" y="211.60" width="34.35" height="34.67" fill="#1a00ff"/>
<rect x="627.78" y="329.62" width="34.35" height="52.78" fill="#fd2210"/>
<rect x="627.78" y="267.96" width="34.35" height="61.66" fill="#80ffff"/>
<rect x="627.78" y="211.60" width="34.35" height="56.36" fill="#1a00ff"/>
<path d="M473.2,348.24 H679.30 M473.2,314.08 H679.30 M473.2,279.92 H679.30 M473.2,245.76 H679.30" stroke="#c8c8c8" stroke-width="0.6" stroke-dasharray="1.6,1.2" fill="none"/>
<rect x="473.2" y="211.6" width="206.1" height="170.80" fill="none" stroke="#000" stroke-opacity="0.5" stroke-width="0.9"/>
<path d="M507.55,382.4 v2.5 M576.25,382.4 v2.5 M644.95,382.4 v2.5 M473.2,382.40 h-2.5 M473.2,348.24 h-2.5 M473.2,314.08 h-2.5 M473.2,279.92 h-2.5 M473.2,245.76 h-2.5 M473.2,211.60 h-2.5" stroke="#555" stroke-width="0.6"/>
<text x="507.6" y="359.1" font-family='"Liberation Serif", serif' font-size="18.2" text-anchor="middle" font-weight="bold" fill="#000" stroke="#000" stroke-width="0.08" >0.33</text>
<text x="507.6" y="295.4" font-family='"Liberation Serif", serif' font-size="18.2" text-anchor="middle" font-weight="bold" fill="#000" stroke="#000" stroke-width="0.08" >0.41</text>
<text x="507.6" y="238.0" font-family='"Liberation Serif", serif' font-size="18.2" text-anchor="middle" font-weight="bold" fill="#fff" stroke="#fff" stroke-width="0.08" >0.25</text>
<text transform="translate(507.6,398.6) scale(1,1.07)" font-family='"Liberation Serif", serif' font-size="17" text-anchor="middle" font-weight="normal" fill="#000" stroke="#000" stroke-width="0.12">Low</text>
<text x="576.2" y="354.5" font-family='"Liberation Serif", serif' font-size="18.2" text-anchor="middle" font-weight="bold" fill="#000" stroke="#000" stroke-width="0.08" >0.38</text>
<text x="576.2" y="286.5" font-family='"Liberation Serif", serif' font-size="18.2" text-anchor="middle" font-weight="bold" fill="#000" stroke="#000" stroke-width="0.08" >0.41</text>
<text x="576.2" y="233.7" font-family='"Liberation Serif", serif' font-size="18.2" text-anchor="middle" font-weight="bold" fill="#fff" stroke="#fff" stroke-width="0.08" >0.20</text>
<text transform="translate(576.2,398.6) scale(1,1.07)" font-family='"Liberation Serif", serif' font-size="17" text-anchor="middle" font-weight="normal" fill="#000" stroke="#000" stroke-width="0.12">Medium</text>
<text x="645.0" y="360.8" font-family='"Liberation Serif", serif' font-size="18.2" text-anchor="middle" font-weight="bold" fill="#000" stroke="#000" stroke-width="0.08" >0.31</text>
<text x="645.0" y="303.5" font-family='"Liberation Serif", serif' font-size="18.2" text-anchor="middle" font-weight="bold" fill="#000" stroke="#000" stroke-width="0.08" >0.36</text>
<text x="645.0" y="244.5" font-family='"Liberation Serif", serif' font-size="18.2" text-anchor="middle" font-weight="bold" fill="#fff" stroke="#fff" stroke-width="0.08" >0.33</text>
<text transform="translate(645.0,398.6) scale(1,1.07)" font-family='"Liberation Serif", serif' font-size="17" text-anchor="middle" font-weight="normal" fill="#000" stroke="#000" stroke-width="0.12">High</text>
<text x="576.2" y="207.8" font-family='"Liberation Serif", serif' font-size="18.1" text-anchor="middle" font-weight="normal" fill="#000" stroke="#000" stroke-width="0.12" >Latitude</text>
<text transform="translate(41.2,388.2) scale(1,1.07)" font-family='"Liberation Serif", serif' font-size="17.1" text-anchor="end" font-weight="normal" fill="#000" stroke="#000" stroke-width="0.12">0.0</text>
<text transform="translate(41.2,354.0) scale(1,1.07)" font-family='"Liberation Serif", serif' font-size="17.1" text-anchor="end" font-weight="normal" fill="#000" stroke="#000" stroke-width="0.12">0.2</text>
<text transform="translate(41.2,319.9) scale(1,1.07)" font-family='"Liberation Serif", serif' font-size="17.1" text-anchor="end" font-weight="normal" fill="#000" stroke="#000" stroke-width="0.12">0.4</text>
<text transform="translate(41.2,285.7) scale(1,1.07)" font-family='"Liberation Serif", serif' font-size="17.1" text-anchor="end" font-weight="normal" fill="#000" stroke="#000" stroke-width="0.12">0.6</text>
<text transform="translate(41.2,251.6) scale(1,1.07)" font-family='"Liberation Serif", serif' font-size="17.1" text-anchor="end" font-weight="normal" fill="#000" stroke="#000" stroke-width="0.12">0.8</text>
<text transform="translate(41.2,217.4) scale(1,1.07)" font-family='"Liberation Serif", serif' font-size="17.1" text-anchor="end" font-weight="normal" fill="#000" stroke="#000" stroke-width="0.12">1.0</text>
<text x="0" y="0" font-family='"Liberation Serif", serif' font-size="18" text-anchor="middle" font-weight="normal" fill="#000" stroke="#000" stroke-width="0.12" transform="translate(13.9,297.0) rotate(-90)">Relative Importance</text>
<text x="23.1" y="196.5" font-family='"Liberation Serif", serif' font-size="14.6" text-anchor="middle" font-weight="bold" fill="#000" stroke="#000" stroke-width="0.08" >III</text>
</svg>
</body></html>
